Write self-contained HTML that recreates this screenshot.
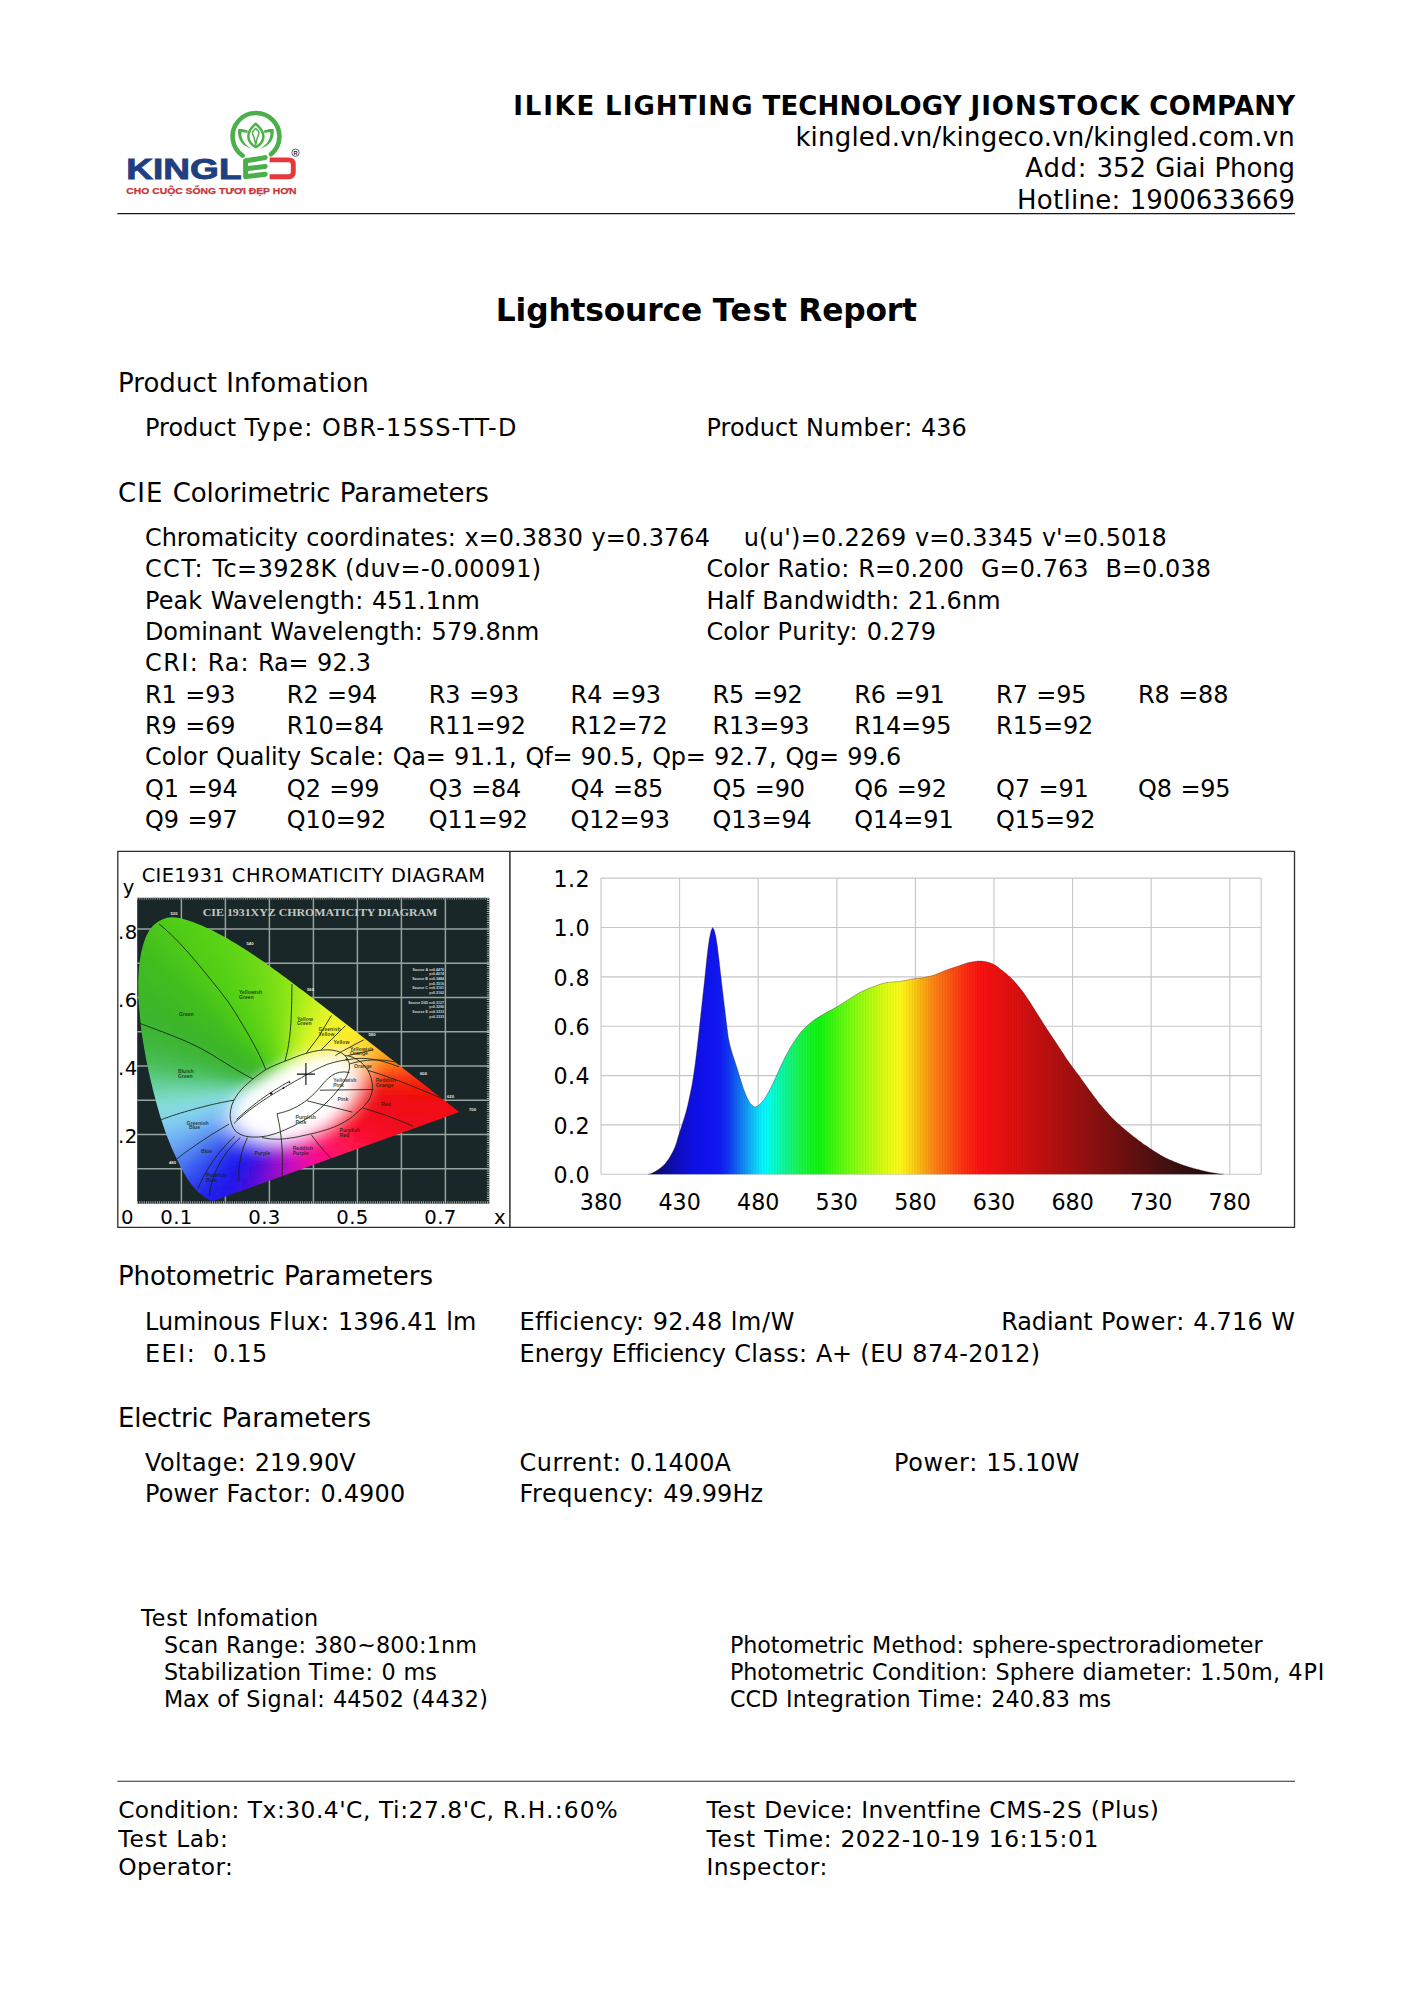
<!DOCTYPE html>
<html lang="en"><head><meta charset="utf-8"><title>Lightsource Test Report</title>
<style>
html,body{margin:0;padding:0;background:#fff;}
body{width:1414px;height:2000px;position:relative;overflow:hidden;font-family:'DejaVu Sans','Liberation Sans',sans-serif;color:#000;}
.t{position:absolute;white-space:pre;color:#000;}
.hl{position:absolute;background:#000;}
.box{position:absolute;border:1px solid #222;box-sizing:border-box;}
svg{position:absolute;overflow:visible;}
</style></head><body>
<svg width="1414" height="2000" viewBox="0 0 1414 2000" style="left:0;top:0">
<path d="M117.4,213.6H1295" stroke="#1a1a1a" stroke-width="1.3" fill="none"/>
<path d="M117.4,1781.2H1295" stroke="#2a2a2a" stroke-width="1.1" fill="none"/>
<path d="M117.8,851.3H1294.5V1227.3H117.8Z" stroke="#2c2c2c" stroke-width="1.3" fill="none"/>
<path d="M509.9,851.3V1227.3" stroke="#2c2c2c" stroke-width="1.5" fill="none"/>
</svg>
<svg width="200" height="110" viewBox="110 95 200 110" style="left:110px;top:95px">
<path d="M242.58,155.57 A23.4,23.4 0 1 1 271.04,154.33" fill="none" stroke="#4caf4a" stroke-width="4.6" stroke-linecap="round"/>
<path d="M255.65,123.68 C260.74,128.01 263.41,131.51 263.41,136.41 C263.41,140.74 260.42,144.56 255.84,147.23 C251.32,144.56 248.33,140.74 248.33,136.41 C248.33,131.51 250.68,128.01 255.65,123.68Z" fill="none" stroke="#4caf4a" stroke-width="2.5" stroke-linejoin="round"/>
<path d="M255.65,128.33 C257.56,130.24 259.78,131.51 258.83,133.74 C257.24,137.56 256.28,140.74 255.77,144.88 C255.14,140.74 254.25,137.56 252.59,133.74 C251.70,131.51 253.74,130.24 255.65,128.33Z" fill="none" stroke="#4caf4a" stroke-width="1.5" stroke-linejoin="round"/>
<path d="M238.20,129.15 C241.64,128.77 245.14,129.41 248.01,130.68 L247.24,133.10 C245.46,132.34 243.23,131.95 241.51,132.21 C240.50,138.19 244.51,144.88 251.64,148.63 C241.01,146.15 237.06,138.19 238.20,129.15Z M273.53,129.15 C270.10,128.77 266.59,129.41 263.73,130.68 L264.49,133.10 C266.28,132.34 268.50,131.95 270.22,132.21 C271.24,138.19 267.23,144.88 260.10,148.63 C270.73,146.15 274.68,138.19 273.53,129.15Z" fill="#4caf4a"/>
<text x="126.3" y="178.9" font-family="'Liberation Sans',sans-serif" font-weight="700" font-size="29.2" fill="#1f3f80" textLength="115.3" lengthAdjust="spacingAndGlyphs" stroke="#1f3f80" stroke-width="0.9">KINGL</text>
<g stroke="#4caf4a" stroke-width="5.0" stroke-linecap="round" fill="none"><path d="M246.0,160.8 L265.2,157.6"/><path d="M246.0,168.8 L265.2,166.4"/><path d="M246.0,176.6 L265.2,174.3"/><path d="M245.6,161.0 L245.6,176.5"/></g>
<path d="M269.6,159.9 L288.6,159.9 Q293.3,159.9 293.3,164.6 L293.3,172.0 Q293.3,176.7 288.6,176.7 L269.6,176.7" fill="none" stroke="#e5383b" stroke-width="4.9" stroke-linecap="butt" stroke-linejoin="round"/>
<circle cx="295.5" cy="152.7" r="3.7" fill="none" stroke="#222" stroke-width="0.7"/>
<text x="295.5" y="154.8" font-family="'Liberation Sans',sans-serif" font-weight="700" font-size="5.6" text-anchor="middle" fill="#222">R</text>
<text x="126.2" y="193.6" font-family="'Liberation Sans','DejaVu Sans',sans-serif" font-weight="700" font-size="8.7" fill="#c5373a" stroke="#c5373a" stroke-width="0.25" textLength="170.4" lengthAdjust="spacingAndGlyphs">CHO CUỘC SỐNG TƯƠI ĐẸP HƠN</text>
</svg>
<svg width="392" height="376" viewBox="118 852 392 376" style="left:118px;top:852px">
<defs><clipPath id="rc"><rect x="137.2" y="897.8" width="352.1" height="305.9"/></clipPath><clipPath id="hc" clip-path="url(#rc)"><path d="M212.4,1201.3 L208.5,1199.5 L204.7,1197.0 L201.1,1194.3 L197.6,1191.5 L194.5,1188.3 L191.7,1184.8 L189.0,1181.2 L186.6,1177.4 L184.3,1173.5 L182.1,1169.6 L180.0,1165.6 L178.1,1161.6 L176.1,1157.5 L174.3,1153.5 L172.4,1149.4 L170.6,1145.2 L168.9,1141.1 L167.3,1136.9 L165.7,1132.7 L164.2,1128.5 L162.8,1124.3 L161.4,1120.0 L160.0,1115.7 L158.8,1111.4 L157.5,1107.1 L156.3,1102.7 L155.2,1098.4 L154.0,1094.1 L152.9,1089.7 L151.9,1085.3 L150.8,1081.0 L149.8,1076.6 L148.8,1072.2 L147.9,1067.8 L147.0,1063.4 L146.1,1059.0 L145.3,1054.6 L144.5,1050.2 L143.8,1045.8 L143.0,1041.4 L142.4,1036.9 L141.7,1032.5 L141.1,1028.0 L140.6,1023.6 L140.1,1019.1 L139.7,1014.6 L139.3,1010.2 L138.9,1005.7 L138.6,1001.2 L138.4,996.7 L138.3,992.2 L138.2,987.7 L138.2,983.2 L138.3,978.8 L138.5,974.3 L138.8,969.8 L139.2,965.4 L139.8,960.9 L140.5,956.5 L141.3,952.1 L142.4,947.6 L143.6,943.2 L145.1,938.9 L146.9,934.7 L149.1,930.7 L151.8,927.1 L155.0,923.9 L158.7,921.3 L162.8,919.2 L167.1,917.8 L171.6,917.3 L176.0,917.4 L180.5,918.2 L184.9,919.4 L189.2,920.8 L193.5,922.3 L197.7,923.9 L201.8,925.6 L205.9,927.4 L209.9,929.3 L214.0,931.3 L218.0,933.4 L221.9,935.5 L225.9,937.6 L229.8,939.9 L233.6,942.2 L237.5,944.5 L241.3,946.9 L245.0,949.3 L248.8,951.7 L252.5,954.2 L256.3,956.7 L260.0,959.3 L263.6,961.8 L267.3,964.4 L270.9,967.0 L274.6,969.7 L278.2,972.3 L281.8,975.0 L285.4,977.6 L289.0,980.3 L292.6,983.0 L296.2,985.7 L299.8,988.4 L303.4,991.1 L306.9,993.8 L310.5,996.6 L314.1,999.3 L317.6,1002.0 L321.2,1004.8 L324.7,1007.5 L328.3,1010.3 L331.8,1013.0 L335.4,1015.7 L338.9,1018.5 L342.5,1021.2 L346.0,1024.0 L349.6,1026.8 L353.1,1029.5 L356.6,1032.3 L360.2,1035.0 L363.7,1037.8 L367.3,1040.5 L370.8,1043.3 L374.4,1046.0 L377.9,1048.8 L381.4,1051.5 L385.0,1054.3 L388.5,1057.0 L392.1,1059.8 L395.6,1062.6 L399.2,1065.3 L402.7,1068.1 L406.2,1070.8 L409.8,1073.6 L413.3,1076.3 L416.9,1079.1 L420.4,1081.8 L424.0,1084.6 L427.5,1087.3 L431.1,1090.1 L434.6,1092.9 L438.1,1095.6 L441.7,1098.4 L445.2,1101.1 L448.8,1103.9 L452.3,1106.6 L455.9,1109.4 L459.4,1112.1Z"/></clipPath><filter id="bl" x="-10%" y="-10%" width="120%" height="120%"><feGaussianBlur stdDeviation="5"/></filter></defs>
<rect x="137.2" y="897.8" width="352.1" height="305.9" fill="#1a2728"/>
<path d="M181.4,897.8V1203.7M225.4,897.8V1203.7M269.4,897.8V1203.7M313.4,897.8V1203.7M357.4,897.8V1203.7M401.4,897.8V1203.7M445.4,897.8V1203.7M137.2,1168.8H489.3M137.2,1134.5H489.3M137.2,1100.2H489.3M137.2,1066.0H489.3M137.2,1031.8H489.3M137.2,997.5H489.3M137.2,963.2H489.3M137.2,929.0H489.3" stroke="#97a4a0" stroke-width="1.45" fill="none"/>
<path d="M137.2,898.8H489.3" stroke="#8f9a96" stroke-width="2" stroke-dasharray="0.9 1.3" fill="none"/>
<path d="M137.2,1202.5H489.3M488.1,897.8V1203.7" stroke="#aeb8b4" stroke-width="2.4" stroke-dasharray="0.9 1.3" fill="none"/>
<g clip-path="url(#hc)"><g filter="url(#bl)" shape-rendering="crispEdges">
<rect x="151" y="905" width="7.5" height="7.5" fill="#4eca19"/>
<rect x="158" y="905" width="7.5" height="7.5" fill="#50cc18"/>
<rect x="165" y="905" width="7.5" height="7.5" fill="#51cd18"/>
<rect x="172" y="905" width="7.5" height="7.5" fill="#52ce17"/>
<rect x="179" y="905" width="7.5" height="7.5" fill="#53cf17"/>
<rect x="186" y="905" width="7.5" height="7.5" fill="#54d016"/>
<rect x="144" y="912" width="7.5" height="7.5" fill="#4bc71a"/>
<rect x="151" y="912" width="7.5" height="7.5" fill="#4dc919"/>
<rect x="158" y="912" width="7.5" height="7.5" fill="#4fcb19"/>
<rect x="165" y="912" width="7.5" height="7.5" fill="#50cc18"/>
<rect x="172" y="912" width="7.5" height="7.5" fill="#51cd17"/>
<rect x="179" y="912" width="7.5" height="7.5" fill="#52ce17"/>
<rect x="186" y="912" width="7.5" height="7.5" fill="#53cf16"/>
<rect x="193" y="912" width="7.5" height="7.5" fill="#55d016"/>
<rect x="200" y="912" width="7.5" height="7.5" fill="#58d116"/>
<rect x="207" y="912" width="7.5" height="7.5" fill="#5bd317"/>
<rect x="137" y="919" width="7.5" height="7.5" fill="#48c41c"/>
<rect x="144" y="919" width="7.5" height="7.5" fill="#49c51b"/>
<rect x="151" y="919" width="7.5" height="7.5" fill="#4bc71a"/>
<rect x="158" y="919" width="7.5" height="7.5" fill="#4dc919"/>
<rect x="165" y="919" width="7.5" height="7.5" fill="#4fcb18"/>
<rect x="172" y="919" width="7.5" height="7.5" fill="#51cd18"/>
<rect x="179" y="919" width="7.5" height="7.5" fill="#52ce17"/>
<rect x="186" y="919" width="7.5" height="7.5" fill="#53cf17"/>
<rect x="193" y="919" width="7.5" height="7.5" fill="#54d016"/>
<rect x="200" y="919" width="7.5" height="7.5" fill="#56d116"/>
<rect x="207" y="919" width="7.5" height="7.5" fill="#5ad217"/>
<rect x="214" y="919" width="7.5" height="7.5" fill="#5dd317"/>
<rect x="221" y="919" width="7.5" height="7.5" fill="#61d518"/>
<rect x="137" y="926" width="7.5" height="7.5" fill="#46c21c"/>
<rect x="144" y="926" width="7.5" height="7.5" fill="#48c41c"/>
<rect x="151" y="926" width="7.5" height="7.5" fill="#4ac61b"/>
<rect x="158" y="926" width="7.5" height="7.5" fill="#4cc81a"/>
<rect x="165" y="926" width="7.5" height="7.5" fill="#4eca19"/>
<rect x="172" y="926" width="7.5" height="7.5" fill="#50cc18"/>
<rect x="179" y="926" width="7.5" height="7.5" fill="#51cd18"/>
<rect x="186" y="926" width="7.5" height="7.5" fill="#52ce17"/>
<rect x="193" y="926" width="7.5" height="7.5" fill="#53cf16"/>
<rect x="200" y="926" width="7.5" height="7.5" fill="#55d016"/>
<rect x="207" y="926" width="7.5" height="7.5" fill="#58d217"/>
<rect x="214" y="926" width="7.5" height="7.5" fill="#5cd317"/>
<rect x="221" y="926" width="7.5" height="7.5" fill="#5fd417"/>
<rect x="228" y="926" width="7.5" height="7.5" fill="#63d618"/>
<rect x="235" y="926" width="7.5" height="7.5" fill="#67d718"/>
<rect x="130" y="933" width="7.5" height="7.5" fill="#42be1e"/>
<rect x="137" y="933" width="7.5" height="7.5" fill="#44c01d"/>
<rect x="144" y="933" width="7.5" height="7.5" fill="#46c21c"/>
<rect x="151" y="933" width="7.5" height="7.5" fill="#48c41b"/>
<rect x="158" y="933" width="7.5" height="7.5" fill="#4ac61b"/>
<rect x="165" y="933" width="7.5" height="7.5" fill="#4cc81a"/>
<rect x="172" y="933" width="7.5" height="7.5" fill="#4eca19"/>
<rect x="179" y="933" width="7.5" height="7.5" fill="#50cc18"/>
<rect x="186" y="933" width="7.5" height="7.5" fill="#51cd17"/>
<rect x="193" y="933" width="7.5" height="7.5" fill="#52ce17"/>
<rect x="200" y="933" width="7.5" height="7.5" fill="#54d016"/>
<rect x="207" y="933" width="7.5" height="7.5" fill="#56d116"/>
<rect x="214" y="933" width="7.5" height="7.5" fill="#5ad217"/>
<rect x="221" y="933" width="7.5" height="7.5" fill="#5ed417"/>
<rect x="228" y="933" width="7.5" height="7.5" fill="#62d518"/>
<rect x="235" y="933" width="7.5" height="7.5" fill="#66d718"/>
<rect x="242" y="933" width="7.5" height="7.5" fill="#6ad818"/>
<rect x="130" y="940" width="7.5" height="7.5" fill="#41bd1f"/>
<rect x="137" y="940" width="7.5" height="7.5" fill="#42be1e"/>
<rect x="144" y="940" width="7.5" height="7.5" fill="#44c01d"/>
<rect x="151" y="940" width="7.5" height="7.5" fill="#46c21c"/>
<rect x="158" y="940" width="7.5" height="7.5" fill="#48c41b"/>
<rect x="165" y="940" width="7.5" height="7.5" fill="#4ac61a"/>
<rect x="172" y="940" width="7.5" height="7.5" fill="#4dc919"/>
<rect x="179" y="940" width="7.5" height="7.5" fill="#4fcb18"/>
<rect x="186" y="940" width="7.5" height="7.5" fill="#51cd18"/>
<rect x="193" y="940" width="7.5" height="7.5" fill="#52ce17"/>
<rect x="200" y="940" width="7.5" height="7.5" fill="#53cf17"/>
<rect x="207" y="940" width="7.5" height="7.5" fill="#55d016"/>
<rect x="214" y="940" width="7.5" height="7.5" fill="#58d217"/>
<rect x="221" y="940" width="7.5" height="7.5" fill="#5cd317"/>
<rect x="228" y="940" width="7.5" height="7.5" fill="#60d518"/>
<rect x="235" y="940" width="7.5" height="7.5" fill="#64d618"/>
<rect x="242" y="940" width="7.5" height="7.5" fill="#69d818"/>
<rect x="249" y="940" width="7.5" height="7.5" fill="#6dda18"/>
<rect x="256" y="940" width="7.5" height="7.5" fill="#72dc18"/>
<rect x="130" y="947" width="7.5" height="7.5" fill="#41bc20"/>
<rect x="137" y="947" width="7.5" height="7.5" fill="#41bd1f"/>
<rect x="144" y="947" width="7.5" height="7.5" fill="#42be1e"/>
<rect x="151" y="947" width="7.5" height="7.5" fill="#44c01d"/>
<rect x="158" y="947" width="7.5" height="7.5" fill="#47c31c"/>
<rect x="165" y="947" width="7.5" height="7.5" fill="#49c51b"/>
<rect x="172" y="947" width="7.5" height="7.5" fill="#4bc71a"/>
<rect x="179" y="947" width="7.5" height="7.5" fill="#4dc919"/>
<rect x="186" y="947" width="7.5" height="7.5" fill="#50cc18"/>
<rect x="193" y="947" width="7.5" height="7.5" fill="#51cd17"/>
<rect x="200" y="947" width="7.5" height="7.5" fill="#52ce17"/>
<rect x="207" y="947" width="7.5" height="7.5" fill="#54d016"/>
<rect x="214" y="947" width="7.5" height="7.5" fill="#57d116"/>
<rect x="221" y="947" width="7.5" height="7.5" fill="#5bd217"/>
<rect x="228" y="947" width="7.5" height="7.5" fill="#5fd417"/>
<rect x="235" y="947" width="7.5" height="7.5" fill="#63d618"/>
<rect x="242" y="947" width="7.5" height="7.5" fill="#67d718"/>
<rect x="249" y="947" width="7.5" height="7.5" fill="#6cd918"/>
<rect x="256" y="947" width="7.5" height="7.5" fill="#71db18"/>
<rect x="263" y="947" width="7.5" height="7.5" fill="#76dd18"/>
<rect x="130" y="954" width="7.5" height="7.5" fill="#40bb21"/>
<rect x="137" y="954" width="7.5" height="7.5" fill="#41bc20"/>
<rect x="144" y="954" width="7.5" height="7.5" fill="#41bd1f"/>
<rect x="151" y="954" width="7.5" height="7.5" fill="#42be1e"/>
<rect x="158" y="954" width="7.5" height="7.5" fill="#45c11d"/>
<rect x="165" y="954" width="7.5" height="7.5" fill="#47c31c"/>
<rect x="172" y="954" width="7.5" height="7.5" fill="#49c51b"/>
<rect x="179" y="954" width="7.5" height="7.5" fill="#4bc71a"/>
<rect x="186" y="954" width="7.5" height="7.5" fill="#4eca19"/>
<rect x="193" y="954" width="7.5" height="7.5" fill="#50cc18"/>
<rect x="200" y="954" width="7.5" height="7.5" fill="#52ce17"/>
<rect x="207" y="954" width="7.5" height="7.5" fill="#53cf17"/>
<rect x="214" y="954" width="7.5" height="7.5" fill="#55d016"/>
<rect x="221" y="954" width="7.5" height="7.5" fill="#59d217"/>
<rect x="228" y="954" width="7.5" height="7.5" fill="#5dd317"/>
<rect x="235" y="954" width="7.5" height="7.5" fill="#61d518"/>
<rect x="242" y="954" width="7.5" height="7.5" fill="#66d718"/>
<rect x="249" y="954" width="7.5" height="7.5" fill="#6bd918"/>
<rect x="256" y="954" width="7.5" height="7.5" fill="#70db18"/>
<rect x="263" y="954" width="7.5" height="7.5" fill="#75dd18"/>
<rect x="270" y="954" width="7.5" height="7.5" fill="#7cdf18"/>
<rect x="277" y="954" width="7.5" height="7.5" fill="#84e219"/>
<rect x="130" y="961" width="7.5" height="7.5" fill="#3fba23"/>
<rect x="137" y="961" width="7.5" height="7.5" fill="#40bb21"/>
<rect x="144" y="961" width="7.5" height="7.5" fill="#41bc20"/>
<rect x="151" y="961" width="7.5" height="7.5" fill="#41bd1f"/>
<rect x="158" y="961" width="7.5" height="7.5" fill="#42be1e"/>
<rect x="165" y="961" width="7.5" height="7.5" fill="#45c11d"/>
<rect x="172" y="961" width="7.5" height="7.5" fill="#47c31c"/>
<rect x="179" y="961" width="7.5" height="7.5" fill="#49c51b"/>
<rect x="186" y="961" width="7.5" height="7.5" fill="#4cc81a"/>
<rect x="193" y="961" width="7.5" height="7.5" fill="#4fcb19"/>
<rect x="200" y="961" width="7.5" height="7.5" fill="#51cd18"/>
<rect x="207" y="961" width="7.5" height="7.5" fill="#52ce17"/>
<rect x="214" y="961" width="7.5" height="7.5" fill="#53cf16"/>
<rect x="221" y="961" width="7.5" height="7.5" fill="#57d116"/>
<rect x="228" y="961" width="7.5" height="7.5" fill="#5bd317"/>
<rect x="235" y="961" width="7.5" height="7.5" fill="#60d417"/>
<rect x="242" y="961" width="7.5" height="7.5" fill="#64d618"/>
<rect x="249" y="961" width="7.5" height="7.5" fill="#6ad818"/>
<rect x="256" y="961" width="7.5" height="7.5" fill="#6fda18"/>
<rect x="263" y="961" width="7.5" height="7.5" fill="#75dd18"/>
<rect x="270" y="961" width="7.5" height="7.5" fill="#7bdf18"/>
<rect x="277" y="961" width="7.5" height="7.5" fill="#84e219"/>
<rect x="284" y="961" width="7.5" height="7.5" fill="#8ce519"/>
<rect x="130" y="968" width="7.5" height="7.5" fill="#3eb924"/>
<rect x="137" y="968" width="7.5" height="7.5" fill="#3fba23"/>
<rect x="144" y="968" width="7.5" height="7.5" fill="#40bb22"/>
<rect x="151" y="968" width="7.5" height="7.5" fill="#41bc20"/>
<rect x="158" y="968" width="7.5" height="7.5" fill="#41bd1f"/>
<rect x="165" y="968" width="7.5" height="7.5" fill="#42be1e"/>
<rect x="172" y="968" width="7.5" height="7.5" fill="#45c11d"/>
<rect x="179" y="968" width="7.5" height="7.5" fill="#47c31c"/>
<rect x="186" y="968" width="7.5" height="7.5" fill="#4ac61b"/>
<rect x="193" y="968" width="7.5" height="7.5" fill="#4dc919"/>
<rect x="200" y="968" width="7.5" height="7.5" fill="#50cb18"/>
<rect x="207" y="968" width="7.5" height="7.5" fill="#51cd17"/>
<rect x="214" y="968" width="7.5" height="7.5" fill="#53cf17"/>
<rect x="221" y="968" width="7.5" height="7.5" fill="#54d016"/>
<rect x="228" y="968" width="7.5" height="7.5" fill="#59d217"/>
<rect x="235" y="968" width="7.5" height="7.5" fill="#5ed417"/>
<rect x="242" y="968" width="7.5" height="7.5" fill="#63d618"/>
<rect x="249" y="968" width="7.5" height="7.5" fill="#68d818"/>
<rect x="256" y="968" width="7.5" height="7.5" fill="#6eda18"/>
<rect x="263" y="968" width="7.5" height="7.5" fill="#74dc18"/>
<rect x="270" y="968" width="7.5" height="7.5" fill="#7bdf18"/>
<rect x="277" y="968" width="7.5" height="7.5" fill="#83e219"/>
<rect x="284" y="968" width="7.5" height="7.5" fill="#8ce519"/>
<rect x="291" y="968" width="7.5" height="7.5" fill="#95e81a"/>
<rect x="130" y="975" width="7.5" height="7.5" fill="#3eb826"/>
<rect x="137" y="975" width="7.5" height="7.5" fill="#3eb924"/>
<rect x="144" y="975" width="7.5" height="7.5" fill="#3fba23"/>
<rect x="151" y="975" width="7.5" height="7.5" fill="#40bb22"/>
<rect x="158" y="975" width="7.5" height="7.5" fill="#40bc21"/>
<rect x="165" y="975" width="7.5" height="7.5" fill="#41bd1f"/>
<rect x="172" y="975" width="7.5" height="7.5" fill="#42be1e"/>
<rect x="179" y="975" width="7.5" height="7.5" fill="#45c11d"/>
<rect x="186" y="975" width="7.5" height="7.5" fill="#48c41c"/>
<rect x="193" y="975" width="7.5" height="7.5" fill="#4ac61a"/>
<rect x="200" y="975" width="7.5" height="7.5" fill="#4dc919"/>
<rect x="207" y="975" width="7.5" height="7.5" fill="#50cc18"/>
<rect x="214" y="975" width="7.5" height="7.5" fill="#52ce17"/>
<rect x="221" y="975" width="7.5" height="7.5" fill="#53cf16"/>
<rect x="228" y="975" width="7.5" height="7.5" fill="#57d116"/>
<rect x="235" y="975" width="7.5" height="7.5" fill="#5cd317"/>
<rect x="242" y="975" width="7.5" height="7.5" fill="#61d518"/>
<rect x="249" y="975" width="7.5" height="7.5" fill="#67d718"/>
<rect x="256" y="975" width="7.5" height="7.5" fill="#6dd918"/>
<rect x="263" y="975" width="7.5" height="7.5" fill="#73dc18"/>
<rect x="270" y="975" width="7.5" height="7.5" fill="#7adf18"/>
<rect x="277" y="975" width="7.5" height="7.5" fill="#83e219"/>
<rect x="284" y="975" width="7.5" height="7.5" fill="#8de519"/>
<rect x="291" y="975" width="7.5" height="7.5" fill="#96e81a"/>
<rect x="298" y="975" width="7.5" height="7.5" fill="#a3eb1c"/>
<rect x="305" y="975" width="7.5" height="7.5" fill="#b0ee1d"/>
<rect x="130" y="982" width="7.5" height="7.5" fill="#3db727"/>
<rect x="137" y="982" width="7.5" height="7.5" fill="#3db826"/>
<rect x="144" y="982" width="7.5" height="7.5" fill="#3eb925"/>
<rect x="151" y="982" width="7.5" height="7.5" fill="#3fba23"/>
<rect x="158" y="982" width="7.5" height="7.5" fill="#40bb22"/>
<rect x="165" y="982" width="7.5" height="7.5" fill="#40bc21"/>
<rect x="172" y="982" width="7.5" height="7.5" fill="#41bd1f"/>
<rect x="179" y="982" width="7.5" height="7.5" fill="#42be1e"/>
<rect x="186" y="982" width="7.5" height="7.5" fill="#45c11d"/>
<rect x="193" y="982" width="7.5" height="7.5" fill="#48c41b"/>
<rect x="200" y="982" width="7.5" height="7.5" fill="#4bc71a"/>
<rect x="207" y="982" width="7.5" height="7.5" fill="#4eca19"/>
<rect x="214" y="982" width="7.5" height="7.5" fill="#51cd18"/>
<rect x="221" y="982" width="7.5" height="7.5" fill="#52ce17"/>
<rect x="228" y="982" width="7.5" height="7.5" fill="#54d016"/>
<rect x="235" y="982" width="7.5" height="7.5" fill="#5ad217"/>
<rect x="242" y="982" width="7.5" height="7.5" fill="#5fd417"/>
<rect x="249" y="982" width="7.5" height="7.5" fill="#65d618"/>
<rect x="256" y="982" width="7.5" height="7.5" fill="#6bd918"/>
<rect x="263" y="982" width="7.5" height="7.5" fill="#72dc18"/>
<rect x="270" y="982" width="7.5" height="7.5" fill="#79de18"/>
<rect x="277" y="982" width="7.5" height="7.5" fill="#83e219"/>
<rect x="284" y="982" width="7.5" height="7.5" fill="#8de519"/>
<rect x="291" y="982" width="7.5" height="7.5" fill="#97e81a"/>
<rect x="298" y="982" width="7.5" height="7.5" fill="#a5eb1c"/>
<rect x="305" y="982" width="7.5" height="7.5" fill="#b3ee1e"/>
<rect x="312" y="982" width="7.5" height="7.5" fill="#c0f11f"/>
<rect x="130" y="989" width="7.5" height="7.5" fill="#3cb629"/>
<rect x="137" y="989" width="7.5" height="7.5" fill="#3cb628"/>
<rect x="144" y="989" width="7.5" height="7.5" fill="#3db726"/>
<rect x="151" y="989" width="7.5" height="7.5" fill="#3eb825"/>
<rect x="158" y="989" width="7.5" height="7.5" fill="#3fb924"/>
<rect x="165" y="989" width="7.5" height="7.5" fill="#3fba22"/>
<rect x="172" y="989" width="7.5" height="7.5" fill="#40bc21"/>
<rect x="179" y="989" width="7.5" height="7.5" fill="#41bd1f"/>
<rect x="186" y="989" width="7.5" height="7.5" fill="#43be1e"/>
<rect x="193" y="989" width="7.5" height="7.5" fill="#45c11d"/>
<rect x="200" y="989" width="7.5" height="7.5" fill="#49c51b"/>
<rect x="207" y="989" width="7.5" height="7.5" fill="#4cc81a"/>
<rect x="214" y="989" width="7.5" height="7.5" fill="#4fcb18"/>
<rect x="221" y="989" width="7.5" height="7.5" fill="#51cd17"/>
<rect x="228" y="989" width="7.5" height="7.5" fill="#53cf16"/>
<rect x="235" y="989" width="7.5" height="7.5" fill="#57d116"/>
<rect x="242" y="989" width="7.5" height="7.5" fill="#5dd317"/>
<rect x="249" y="989" width="7.5" height="7.5" fill="#63d618"/>
<rect x="256" y="989" width="7.5" height="7.5" fill="#6ad818"/>
<rect x="263" y="989" width="7.5" height="7.5" fill="#71db18"/>
<rect x="270" y="989" width="7.5" height="7.5" fill="#78de18"/>
<rect x="277" y="989" width="7.5" height="7.5" fill="#82e119"/>
<rect x="284" y="989" width="7.5" height="7.5" fill="#8de519"/>
<rect x="291" y="989" width="7.5" height="7.5" fill="#99e91a"/>
<rect x="298" y="989" width="7.5" height="7.5" fill="#a8ec1c"/>
<rect x="305" y="989" width="7.5" height="7.5" fill="#b6ef1e"/>
<rect x="312" y="989" width="7.5" height="7.5" fill="#c4f220"/>
<rect x="319" y="989" width="7.5" height="7.5" fill="#cef322"/>
<rect x="130" y="996" width="7.5" height="7.5" fill="#3cb62b"/>
<rect x="137" y="996" width="7.5" height="7.5" fill="#3cb629"/>
<rect x="144" y="996" width="7.5" height="7.5" fill="#3cb628"/>
<rect x="151" y="996" width="7.5" height="7.5" fill="#3db727"/>
<rect x="158" y="996" width="7.5" height="7.5" fill="#3eb826"/>
<rect x="165" y="996" width="7.5" height="7.5" fill="#3eb924"/>
<rect x="172" y="996" width="7.5" height="7.5" fill="#3fba23"/>
<rect x="179" y="996" width="7.5" height="7.5" fill="#40bb21"/>
<rect x="186" y="996" width="7.5" height="7.5" fill="#41bd1f"/>
<rect x="193" y="996" width="7.5" height="7.5" fill="#43bf1e"/>
<rect x="200" y="996" width="7.5" height="7.5" fill="#46c21c"/>
<rect x="207" y="996" width="7.5" height="7.5" fill="#49c51b"/>
<rect x="214" y="996" width="7.5" height="7.5" fill="#4dc919"/>
<rect x="221" y="996" width="7.5" height="7.5" fill="#50cc18"/>
<rect x="228" y="996" width="7.5" height="7.5" fill="#52ce17"/>
<rect x="235" y="996" width="7.5" height="7.5" fill="#54d016"/>
<rect x="242" y="996" width="7.5" height="7.5" fill="#5ad217"/>
<rect x="249" y="996" width="7.5" height="7.5" fill="#61d518"/>
<rect x="256" y="996" width="7.5" height="7.5" fill="#68d718"/>
<rect x="263" y="996" width="7.5" height="7.5" fill="#6fda18"/>
<rect x="270" y="996" width="7.5" height="7.5" fill="#77de18"/>
<rect x="277" y="996" width="7.5" height="7.5" fill="#82e119"/>
<rect x="284" y="996" width="7.5" height="7.5" fill="#8ee519"/>
<rect x="291" y="996" width="7.5" height="7.5" fill="#9ae91b"/>
<rect x="298" y="996" width="7.5" height="7.5" fill="#aaec1d"/>
<rect x="305" y="996" width="7.5" height="7.5" fill="#baf01f"/>
<rect x="312" y="996" width="7.5" height="7.5" fill="#c8f221"/>
<rect x="319" y="996" width="7.5" height="7.5" fill="#d2f323"/>
<rect x="326" y="996" width="7.5" height="7.5" fill="#dcf326"/>
<rect x="333" y="996" width="7.5" height="7.5" fill="#e5f428"/>
<rect x="130" y="1003" width="7.5" height="7.5" fill="#3cb52d"/>
<rect x="137" y="1003" width="7.5" height="7.5" fill="#3cb52b"/>
<rect x="144" y="1003" width="7.5" height="7.5" fill="#3cb62a"/>
<rect x="151" y="1003" width="7.5" height="7.5" fill="#3cb629"/>
<rect x="158" y="1003" width="7.5" height="7.5" fill="#3cb628"/>
<rect x="165" y="1003" width="7.5" height="7.5" fill="#3db826"/>
<rect x="172" y="1003" width="7.5" height="7.5" fill="#3eb925"/>
<rect x="179" y="1003" width="7.5" height="7.5" fill="#3fba23"/>
<rect x="186" y="1003" width="7.5" height="7.5" fill="#40bb21"/>
<rect x="193" y="1003" width="7.5" height="7.5" fill="#41bd20"/>
<rect x="200" y="1003" width="7.5" height="7.5" fill="#43bf1e"/>
<rect x="207" y="1003" width="7.5" height="7.5" fill="#46c21c"/>
<rect x="214" y="1003" width="7.5" height="7.5" fill="#4ac61b"/>
<rect x="221" y="1003" width="7.5" height="7.5" fill="#4eca19"/>
<rect x="228" y="1003" width="7.5" height="7.5" fill="#51cd18"/>
<rect x="235" y="1003" width="7.5" height="7.5" fill="#53cf17"/>
<rect x="242" y="1003" width="7.5" height="7.5" fill="#57d116"/>
<rect x="249" y="1003" width="7.5" height="7.5" fill="#5ed417"/>
<rect x="256" y="1003" width="7.5" height="7.5" fill="#65d718"/>
<rect x="263" y="1003" width="7.5" height="7.5" fill="#6dda18"/>
<rect x="270" y="1003" width="7.5" height="7.5" fill="#76dd18"/>
<rect x="277" y="1003" width="7.5" height="7.5" fill="#81e119"/>
<rect x="284" y="1003" width="7.5" height="7.5" fill="#8ee519"/>
<rect x="291" y="1003" width="7.5" height="7.5" fill="#9ce91b"/>
<rect x="298" y="1003" width="7.5" height="7.5" fill="#aeed1d"/>
<rect x="305" y="1003" width="7.5" height="7.5" fill="#bef11f"/>
<rect x="312" y="1003" width="7.5" height="7.5" fill="#ccf222"/>
<rect x="319" y="1003" width="7.5" height="7.5" fill="#d7f325"/>
<rect x="326" y="1003" width="7.5" height="7.5" fill="#e1f427"/>
<rect x="333" y="1003" width="7.5" height="7.5" fill="#e8f42a"/>
<rect x="340" y="1003" width="7.5" height="7.5" fill="#edf32d"/>
<rect x="130" y="1010" width="7.5" height="7.5" fill="#3db52f"/>
<rect x="137" y="1010" width="7.5" height="7.5" fill="#3cb52e"/>
<rect x="144" y="1010" width="7.5" height="7.5" fill="#3cb52c"/>
<rect x="151" y="1010" width="7.5" height="7.5" fill="#3cb52b"/>
<rect x="158" y="1010" width="7.5" height="7.5" fill="#3cb62a"/>
<rect x="165" y="1010" width="7.5" height="7.5" fill="#3cb628"/>
<rect x="172" y="1010" width="7.5" height="7.5" fill="#3db727"/>
<rect x="179" y="1010" width="7.5" height="7.5" fill="#3eb825"/>
<rect x="186" y="1010" width="7.5" height="7.5" fill="#3fba24"/>
<rect x="193" y="1010" width="7.5" height="7.5" fill="#40bb22"/>
<rect x="200" y="1010" width="7.5" height="7.5" fill="#41bd20"/>
<rect x="207" y="1010" width="7.5" height="7.5" fill="#43bf1e"/>
<rect x="214" y="1010" width="7.5" height="7.5" fill="#46c21c"/>
<rect x="221" y="1010" width="7.5" height="7.5" fill="#4ac61a"/>
<rect x="228" y="1010" width="7.5" height="7.5" fill="#4fcb19"/>
<rect x="235" y="1010" width="7.5" height="7.5" fill="#52ce17"/>
<rect x="242" y="1010" width="7.5" height="7.5" fill="#54d016"/>
<rect x="249" y="1010" width="7.5" height="7.5" fill="#5bd317"/>
<rect x="256" y="1010" width="7.5" height="7.5" fill="#63d618"/>
<rect x="263" y="1010" width="7.5" height="7.5" fill="#6bd918"/>
<rect x="270" y="1010" width="7.5" height="7.5" fill="#74dd18"/>
<rect x="277" y="1010" width="7.5" height="7.5" fill="#81e119"/>
<rect x="284" y="1010" width="7.5" height="7.5" fill="#8ee519"/>
<rect x="291" y="1010" width="7.5" height="7.5" fill="#9fea1b"/>
<rect x="298" y="1010" width="7.5" height="7.5" fill="#b1ee1e"/>
<rect x="305" y="1010" width="7.5" height="7.5" fill="#c4f220"/>
<rect x="312" y="1010" width="7.5" height="7.5" fill="#d0f323"/>
<rect x="319" y="1010" width="7.5" height="7.5" fill="#dcf326"/>
<rect x="326" y="1010" width="7.5" height="7.5" fill="#e6f429"/>
<rect x="333" y="1010" width="7.5" height="7.5" fill="#ecf32c"/>
<rect x="340" y="1010" width="7.5" height="7.5" fill="#f1f22f"/>
<rect x="347" y="1010" width="7.5" height="7.5" fill="#f5f12f"/>
<rect x="130" y="1017" width="7.5" height="7.5" fill="#3db431"/>
<rect x="137" y="1017" width="7.5" height="7.5" fill="#3db530"/>
<rect x="144" y="1017" width="7.5" height="7.5" fill="#3db52f"/>
<rect x="151" y="1017" width="7.5" height="7.5" fill="#3cb52d"/>
<rect x="158" y="1017" width="7.5" height="7.5" fill="#3cb52c"/>
<rect x="165" y="1017" width="7.5" height="7.5" fill="#3cb52b"/>
<rect x="172" y="1017" width="7.5" height="7.5" fill="#3cb629"/>
<rect x="179" y="1017" width="7.5" height="7.5" fill="#3cb628"/>
<rect x="186" y="1017" width="7.5" height="7.5" fill="#3db826"/>
<rect x="193" y="1017" width="7.5" height="7.5" fill="#3eb924"/>
<rect x="200" y="1017" width="7.5" height="7.5" fill="#40bb22"/>
<rect x="207" y="1017" width="7.5" height="7.5" fill="#41bc20"/>
<rect x="214" y="1017" width="7.5" height="7.5" fill="#43bf1e"/>
<rect x="221" y="1017" width="7.5" height="7.5" fill="#47c31c"/>
<rect x="228" y="1017" width="7.5" height="7.5" fill="#4bc71a"/>
<rect x="235" y="1017" width="7.5" height="7.5" fill="#50cc18"/>
<rect x="242" y="1017" width="7.5" height="7.5" fill="#53cf17"/>
<rect x="249" y="1017" width="7.5" height="7.5" fill="#58d116"/>
<rect x="256" y="1017" width="7.5" height="7.5" fill="#60d417"/>
<rect x="263" y="1017" width="7.5" height="7.5" fill="#69d818"/>
<rect x="270" y="1017" width="7.5" height="7.5" fill="#73dc18"/>
<rect x="277" y="1017" width="7.5" height="7.5" fill="#80e119"/>
<rect x="284" y="1017" width="7.5" height="7.5" fill="#8fe61a"/>
<rect x="291" y="1017" width="7.5" height="7.5" fill="#a1ea1b"/>
<rect x="298" y="1017" width="7.5" height="7.5" fill="#b6ef1e"/>
<rect x="305" y="1017" width="7.5" height="7.5" fill="#c8f221"/>
<rect x="312" y="1017" width="7.5" height="7.5" fill="#d6f324"/>
<rect x="319" y="1017" width="7.5" height="7.5" fill="#e2f428"/>
<rect x="326" y="1017" width="7.5" height="7.5" fill="#eaf32b"/>
<rect x="333" y="1017" width="7.5" height="7.5" fill="#f0f32e"/>
<rect x="340" y="1017" width="7.5" height="7.5" fill="#f5f12f"/>
<rect x="347" y="1017" width="7.5" height="7.5" fill="#f6f02d"/>
<rect x="354" y="1017" width="7.5" height="7.5" fill="#f7ef2b"/>
<rect x="130" y="1024" width="7.5" height="7.5" fill="#3eb636"/>
<rect x="137" y="1024" width="7.5" height="7.5" fill="#3eb534"/>
<rect x="144" y="1024" width="7.5" height="7.5" fill="#3db431"/>
<rect x="151" y="1024" width="7.5" height="7.5" fill="#3db530"/>
<rect x="158" y="1024" width="7.5" height="7.5" fill="#3db52f"/>
<rect x="165" y="1024" width="7.5" height="7.5" fill="#3cb52d"/>
<rect x="172" y="1024" width="7.5" height="7.5" fill="#3cb52c"/>
<rect x="179" y="1024" width="7.5" height="7.5" fill="#3cb62a"/>
<rect x="186" y="1024" width="7.5" height="7.5" fill="#3cb629"/>
<rect x="193" y="1024" width="7.5" height="7.5" fill="#3db727"/>
<rect x="200" y="1024" width="7.5" height="7.5" fill="#3eb925"/>
<rect x="207" y="1024" width="7.5" height="7.5" fill="#3fba23"/>
<rect x="214" y="1024" width="7.5" height="7.5" fill="#41bc20"/>
<rect x="221" y="1024" width="7.5" height="7.5" fill="#43bf1e"/>
<rect x="228" y="1024" width="7.5" height="7.5" fill="#47c31c"/>
<rect x="235" y="1024" width="7.5" height="7.5" fill="#4dc919"/>
<rect x="242" y="1024" width="7.5" height="7.5" fill="#51cd18"/>
<rect x="249" y="1024" width="7.5" height="7.5" fill="#54d016"/>
<rect x="256" y="1024" width="7.5" height="7.5" fill="#5cd317"/>
<rect x="263" y="1024" width="7.5" height="7.5" fill="#66d718"/>
<rect x="270" y="1024" width="7.5" height="7.5" fill="#71db18"/>
<rect x="277" y="1024" width="7.5" height="7.5" fill="#7fe018"/>
<rect x="284" y="1024" width="7.5" height="7.5" fill="#90e61a"/>
<rect x="291" y="1024" width="7.5" height="7.5" fill="#a5eb1c"/>
<rect x="298" y="1024" width="7.5" height="7.5" fill="#bcf01f"/>
<rect x="305" y="1024" width="7.5" height="7.5" fill="#cef322"/>
<rect x="312" y="1024" width="7.5" height="7.5" fill="#dcf426"/>
<rect x="319" y="1024" width="7.5" height="7.5" fill="#e7f42a"/>
<rect x="326" y="1024" width="7.5" height="7.5" fill="#eef32d"/>
<rect x="333" y="1024" width="7.5" height="7.5" fill="#f4f230"/>
<rect x="340" y="1024" width="7.5" height="7.5" fill="#f6f02d"/>
<rect x="347" y="1024" width="7.5" height="7.5" fill="#f8ee2b"/>
<rect x="354" y="1024" width="7.5" height="7.5" fill="#f9ed29"/>
<rect x="361" y="1024" width="7.5" height="7.5" fill="#faeb28"/>
<rect x="368" y="1024" width="7.5" height="7.5" fill="#fbe526"/>
<rect x="130" y="1031" width="7.5" height="7.5" fill="#3fb73c"/>
<rect x="137" y="1031" width="7.5" height="7.5" fill="#3fb639"/>
<rect x="144" y="1031" width="7.5" height="7.5" fill="#3eb637"/>
<rect x="151" y="1031" width="7.5" height="7.5" fill="#3eb535"/>
<rect x="158" y="1031" width="7.5" height="7.5" fill="#3db532"/>
<rect x="165" y="1031" width="7.5" height="7.5" fill="#3db430"/>
<rect x="172" y="1031" width="7.5" height="7.5" fill="#3db52f"/>
<rect x="179" y="1031" width="7.5" height="7.5" fill="#3cb52d"/>
<rect x="186" y="1031" width="7.5" height="7.5" fill="#3cb52b"/>
<rect x="193" y="1031" width="7.5" height="7.5" fill="#3cb62a"/>
<rect x="200" y="1031" width="7.5" height="7.5" fill="#3cb628"/>
<rect x="207" y="1031" width="7.5" height="7.5" fill="#3eb826"/>
<rect x="214" y="1031" width="7.5" height="7.5" fill="#3fba23"/>
<rect x="221" y="1031" width="7.5" height="7.5" fill="#41bc20"/>
<rect x="228" y="1031" width="7.5" height="7.5" fill="#43bf1e"/>
<rect x="235" y="1031" width="7.5" height="7.5" fill="#48c41b"/>
<rect x="242" y="1031" width="7.5" height="7.5" fill="#4eca19"/>
<rect x="249" y="1031" width="7.5" height="7.5" fill="#52ce17"/>
<rect x="256" y="1031" width="7.5" height="7.5" fill="#58d217"/>
<rect x="263" y="1031" width="7.5" height="7.5" fill="#63d618"/>
<rect x="270" y="1031" width="7.5" height="7.5" fill="#6fda18"/>
<rect x="277" y="1031" width="7.5" height="7.5" fill="#7de018"/>
<rect x="284" y="1031" width="7.5" height="7.5" fill="#91e61a"/>
<rect x="291" y="1031" width="7.5" height="7.5" fill="#a9ec1c"/>
<rect x="298" y="1031" width="7.5" height="7.5" fill="#c3f220"/>
<rect x="305" y="1031" width="7.5" height="7.5" fill="#d4f324"/>
<rect x="312" y="1031" width="7.5" height="7.5" fill="#e4f428"/>
<rect x="319" y="1031" width="7.5" height="7.5" fill="#ecf32c"/>
<rect x="326" y="1031" width="7.5" height="7.5" fill="#f4f230"/>
<rect x="333" y="1031" width="7.5" height="7.5" fill="#f6f02d"/>
<rect x="340" y="1031" width="7.5" height="7.5" fill="#f8ee2b"/>
<rect x="347" y="1031" width="7.5" height="7.5" fill="#f9ed29"/>
<rect x="354" y="1031" width="7.5" height="7.5" fill="#fbe927"/>
<rect x="361" y="1031" width="7.5" height="7.5" fill="#fce325"/>
<rect x="368" y="1031" width="7.5" height="7.5" fill="#fddd24"/>
<rect x="375" y="1031" width="7.5" height="7.5" fill="#fed822"/>
<rect x="130" y="1038" width="7.5" height="7.5" fill="#41b842"/>
<rect x="137" y="1038" width="7.5" height="7.5" fill="#41b840"/>
<rect x="144" y="1038" width="7.5" height="7.5" fill="#40b73d"/>
<rect x="151" y="1038" width="7.5" height="7.5" fill="#3fb73b"/>
<rect x="158" y="1038" width="7.5" height="7.5" fill="#3fb639"/>
<rect x="165" y="1038" width="7.5" height="7.5" fill="#3eb536"/>
<rect x="172" y="1038" width="7.5" height="7.5" fill="#3db533"/>
<rect x="179" y="1038" width="7.5" height="7.5" fill="#3db430"/>
<rect x="186" y="1038" width="7.5" height="7.5" fill="#3db52f"/>
<rect x="193" y="1038" width="7.5" height="7.5" fill="#3cb52d"/>
<rect x="200" y="1038" width="7.5" height="7.5" fill="#3cb52b"/>
<rect x="207" y="1038" width="7.5" height="7.5" fill="#3cb629"/>
<rect x="214" y="1038" width="7.5" height="7.5" fill="#3db726"/>
<rect x="221" y="1038" width="7.5" height="7.5" fill="#3fb924"/>
<rect x="228" y="1038" width="7.5" height="7.5" fill="#40bc21"/>
<rect x="235" y="1038" width="7.5" height="7.5" fill="#43bf1e"/>
<rect x="242" y="1038" width="7.5" height="7.5" fill="#49c51b"/>
<rect x="249" y="1038" width="7.5" height="7.5" fill="#50cc18"/>
<rect x="256" y="1038" width="7.5" height="7.5" fill="#54d016"/>
<rect x="263" y="1038" width="7.5" height="7.5" fill="#5fd417"/>
<rect x="270" y="1038" width="7.5" height="7.5" fill="#6cd918"/>
<rect x="277" y="1038" width="7.5" height="7.5" fill="#7cdf18"/>
<rect x="284" y="1038" width="7.5" height="7.5" fill="#92e71a"/>
<rect x="291" y="1038" width="7.5" height="7.5" fill="#aeed1d"/>
<rect x="298" y="1038" width="7.5" height="7.5" fill="#c9f221"/>
<rect x="305" y="1038" width="7.5" height="7.5" fill="#dcf426"/>
<rect x="312" y="1038" width="7.5" height="7.5" fill="#eaf32b"/>
<rect x="319" y="1038" width="7.5" height="7.5" fill="#f2f22f"/>
<rect x="326" y="1038" width="7.5" height="7.5" fill="#f6f02e"/>
<rect x="333" y="1038" width="7.5" height="7.5" fill="#f8ee2c"/>
<rect x="340" y="1038" width="7.5" height="7.5" fill="#faed2c"/>
<rect x="347" y="1038" width="7.5" height="7.5" fill="#fbe62a"/>
<rect x="354" y="1038" width="7.5" height="7.5" fill="#fce026"/>
<rect x="361" y="1038" width="7.5" height="7.5" fill="#fdd923"/>
<rect x="368" y="1038" width="7.5" height="7.5" fill="#fed421"/>
<rect x="375" y="1038" width="7.5" height="7.5" fill="#ffcf20"/>
<rect x="382" y="1038" width="7.5" height="7.5" fill="#ffc61f"/>
<rect x="130" y="1045" width="7.5" height="7.5" fill="#43ba48"/>
<rect x="137" y="1045" width="7.5" height="7.5" fill="#43b946"/>
<rect x="144" y="1045" width="7.5" height="7.5" fill="#42b944"/>
<rect x="151" y="1045" width="7.5" height="7.5" fill="#41b842"/>
<rect x="158" y="1045" width="7.5" height="7.5" fill="#41b840"/>
<rect x="165" y="1045" width="7.5" height="7.5" fill="#40b73d"/>
<rect x="172" y="1045" width="7.5" height="7.5" fill="#3fb73a"/>
<rect x="179" y="1045" width="7.5" height="7.5" fill="#3eb637"/>
<rect x="186" y="1045" width="7.5" height="7.5" fill="#3eb534"/>
<rect x="193" y="1045" width="7.5" height="7.5" fill="#3db431"/>
<rect x="200" y="1045" width="7.5" height="7.5" fill="#3db52f"/>
<rect x="207" y="1045" width="7.5" height="7.5" fill="#3cb52d"/>
<rect x="214" y="1045" width="7.5" height="7.5" fill="#3cb62a"/>
<rect x="221" y="1045" width="7.5" height="7.5" fill="#3cb628"/>
<rect x="228" y="1045" width="7.5" height="7.5" fill="#3eb925"/>
<rect x="235" y="1045" width="7.5" height="7.5" fill="#40bb21"/>
<rect x="242" y="1045" width="7.5" height="7.5" fill="#43bf1e"/>
<rect x="249" y="1045" width="7.5" height="7.5" fill="#4ac61a"/>
<rect x="256" y="1045" width="7.5" height="7.5" fill="#51cd17"/>
<rect x="263" y="1045" width="7.5" height="7.5" fill="#59d217"/>
<rect x="270" y="1045" width="7.5" height="7.5" fill="#68d818"/>
<rect x="277" y="1045" width="7.5" height="7.5" fill="#79de18"/>
<rect x="284" y="1045" width="7.5" height="7.5" fill="#93e71a"/>
<rect x="291" y="1045" width="7.5" height="7.5" fill="#b6ef1e"/>
<rect x="298" y="1045" width="7.5" height="7.5" fill="#d2f323"/>
<rect x="305" y="1045" width="7.5" height="7.5" fill="#e6f42f"/>
<rect x="312" y="1045" width="7.5" height="7.5" fill="#f2f442"/>
<rect x="319" y="1045" width="7.5" height="7.5" fill="#f7f351"/>
<rect x="326" y="1045" width="7.5" height="7.5" fill="#faf25b"/>
<rect x="333" y="1045" width="7.5" height="7.5" fill="#fbf061"/>
<rect x="340" y="1045" width="7.5" height="7.5" fill="#fdea5f"/>
<rect x="347" y="1045" width="7.5" height="7.5" fill="#fde457"/>
<rect x="354" y="1045" width="7.5" height="7.5" fill="#fedc49"/>
<rect x="361" y="1045" width="7.5" height="7.5" fill="#ffd437"/>
<rect x="368" y="1045" width="7.5" height="7.5" fill="#ffc626"/>
<rect x="375" y="1045" width="7.5" height="7.5" fill="#ffbb1d"/>
<rect x="382" y="1045" width="7.5" height="7.5" fill="#ffb21c"/>
<rect x="389" y="1045" width="7.5" height="7.5" fill="#ffab1b"/>
<rect x="396" y="1045" width="7.5" height="7.5" fill="#ffa41b"/>
<rect x="130" y="1052" width="7.5" height="7.5" fill="#46bc4f"/>
<rect x="137" y="1052" width="7.5" height="7.5" fill="#45bb4e"/>
<rect x="144" y="1052" width="7.5" height="7.5" fill="#45bb4c"/>
<rect x="151" y="1052" width="7.5" height="7.5" fill="#44ba4a"/>
<rect x="158" y="1052" width="7.5" height="7.5" fill="#43ba48"/>
<rect x="165" y="1052" width="7.5" height="7.5" fill="#42b945"/>
<rect x="172" y="1052" width="7.5" height="7.5" fill="#42b943"/>
<rect x="179" y="1052" width="7.5" height="7.5" fill="#41b840"/>
<rect x="186" y="1052" width="7.5" height="7.5" fill="#40b73d"/>
<rect x="193" y="1052" width="7.5" height="7.5" fill="#3fb639"/>
<rect x="200" y="1052" width="7.5" height="7.5" fill="#3eb536"/>
<rect x="207" y="1052" width="7.5" height="7.5" fill="#3db431"/>
<rect x="214" y="1052" width="7.5" height="7.5" fill="#3db52f"/>
<rect x="221" y="1052" width="7.5" height="7.5" fill="#3cb52c"/>
<rect x="228" y="1052" width="7.5" height="7.5" fill="#3cb629"/>
<rect x="235" y="1052" width="7.5" height="7.5" fill="#3db826"/>
<rect x="242" y="1052" width="7.5" height="7.5" fill="#40bb22"/>
<rect x="249" y="1052" width="7.5" height="7.5" fill="#43bf1e"/>
<rect x="256" y="1052" width="7.5" height="7.5" fill="#4cc81a"/>
<rect x="263" y="1052" width="7.5" height="7.5" fill="#53cf16"/>
<rect x="270" y="1052" width="7.5" height="7.5" fill="#63d518"/>
<rect x="277" y="1052" width="7.5" height="7.5" fill="#77de18"/>
<rect x="284" y="1052" width="7.5" height="7.5" fill="#97e81d"/>
<rect x="291" y="1052" width="7.5" height="7.5" fill="#c7f338"/>
<rect x="298" y="1052" width="7.5" height="7.5" fill="#e5f65c"/>
<rect x="305" y="1052" width="7.5" height="7.5" fill="#f5f880"/>
<rect x="312" y="1052" width="7.5" height="7.5" fill="#faf89b"/>
<rect x="319" y="1052" width="7.5" height="7.5" fill="#fcf8ac"/>
<rect x="326" y="1052" width="7.5" height="7.5" fill="#fef7b5"/>
<rect x="333" y="1052" width="7.5" height="7.5" fill="#fef4b5"/>
<rect x="340" y="1052" width="7.5" height="7.5" fill="#fff0ab"/>
<rect x="347" y="1052" width="7.5" height="7.5" fill="#ffe999"/>
<rect x="354" y="1052" width="7.5" height="7.5" fill="#ffdc7d"/>
<rect x="361" y="1052" width="7.5" height="7.5" fill="#ffcb5c"/>
<rect x="368" y="1052" width="7.5" height="7.5" fill="#ffb83a"/>
<rect x="375" y="1052" width="7.5" height="7.5" fill="#ffa721"/>
<rect x="382" y="1052" width="7.5" height="7.5" fill="#ff9e1a"/>
<rect x="389" y="1052" width="7.5" height="7.5" fill="#ff9719"/>
<rect x="396" y="1052" width="7.5" height="7.5" fill="#ff9118"/>
<rect x="403" y="1052" width="7.5" height="7.5" fill="#ff8a18"/>
<rect x="130" y="1059" width="7.5" height="7.5" fill="#4bbf5d"/>
<rect x="137" y="1059" width="7.5" height="7.5" fill="#4abe59"/>
<rect x="144" y="1059" width="7.5" height="7.5" fill="#49bd55"/>
<rect x="151" y="1059" width="7.5" height="7.5" fill="#48bd52"/>
<rect x="158" y="1059" width="7.5" height="7.5" fill="#47bc51"/>
<rect x="165" y="1059" width="7.5" height="7.5" fill="#46bc4e"/>
<rect x="172" y="1059" width="7.5" height="7.5" fill="#45bb4c"/>
<rect x="179" y="1059" width="7.5" height="7.5" fill="#44ba4a"/>
<rect x="186" y="1059" width="7.5" height="7.5" fill="#43ba47"/>
<rect x="193" y="1059" width="7.5" height="7.5" fill="#42b944"/>
<rect x="200" y="1059" width="7.5" height="7.5" fill="#41b840"/>
<rect x="207" y="1059" width="7.5" height="7.5" fill="#40b73c"/>
<rect x="214" y="1059" width="7.5" height="7.5" fill="#3fb638"/>
<rect x="221" y="1059" width="7.5" height="7.5" fill="#3db533"/>
<rect x="228" y="1059" width="7.5" height="7.5" fill="#3db52f"/>
<rect x="235" y="1059" width="7.5" height="7.5" fill="#3cb52c"/>
<rect x="242" y="1059" width="7.5" height="7.5" fill="#3cb628"/>
<rect x="249" y="1059" width="7.5" height="7.5" fill="#3fba23"/>
<rect x="256" y="1059" width="7.5" height="7.5" fill="#43bf1d"/>
<rect x="263" y="1059" width="7.5" height="7.5" fill="#4fcb18"/>
<rect x="270" y="1059" width="7.5" height="7.5" fill="#5fd41c"/>
<rect x="277" y="1059" width="7.5" height="7.5" fill="#89e23c"/>
<rect x="284" y="1059" width="7.5" height="7.5" fill="#bef16b"/>
<rect x="291" y="1059" width="7.5" height="7.5" fill="#e9fa9e"/>
<rect x="298" y="1059" width="7.5" height="7.5" fill="#f9fcc7"/>
<rect x="305" y="1059" width="7.5" height="7.5" fill="#fefde3"/>
<rect x="312" y="1059" width="7.5" height="7.5" fill="#fffef2"/>
<rect x="319" y="1059" width="7.5" height="7.5" fill="#fffef8"/>
<rect x="326" y="1059" width="7.5" height="7.5" fill="#fffef8"/>
<rect x="333" y="1059" width="7.5" height="7.5" fill="#fffdf3"/>
<rect x="340" y="1059" width="7.5" height="7.5" fill="#fff8e6"/>
<rect x="347" y="1059" width="7.5" height="7.5" fill="#ffeecc"/>
<rect x="354" y="1059" width="7.5" height="7.5" fill="#ffdda6"/>
<rect x="361" y="1059" width="7.5" height="7.5" fill="#ffc578"/>
<rect x="368" y="1059" width="7.5" height="7.5" fill="#ffab49"/>
<rect x="375" y="1059" width="7.5" height="7.5" fill="#ff9426"/>
<rect x="382" y="1059" width="7.5" height="7.5" fill="#ff8417"/>
<rect x="389" y="1059" width="7.5" height="7.5" fill="#ff7c17"/>
<rect x="396" y="1059" width="7.5" height="7.5" fill="#ff7516"/>
<rect x="403" y="1059" width="7.5" height="7.5" fill="#ff6f16"/>
<rect x="410" y="1059" width="7.5" height="7.5" fill="#ff6916"/>
<rect x="137" y="1066" width="7.5" height="7.5" fill="#52c46d"/>
<rect x="144" y="1066" width="7.5" height="7.5" fill="#51c36a"/>
<rect x="151" y="1066" width="7.5" height="7.5" fill="#50c267"/>
<rect x="158" y="1066" width="7.5" height="7.5" fill="#4ec164"/>
<rect x="165" y="1066" width="7.5" height="7.5" fill="#4dc060"/>
<rect x="172" y="1066" width="7.5" height="7.5" fill="#4bbf5c"/>
<rect x="179" y="1066" width="7.5" height="7.5" fill="#49be57"/>
<rect x="186" y="1066" width="7.5" height="7.5" fill="#48bd53"/>
<rect x="193" y="1066" width="7.5" height="7.5" fill="#46bc50"/>
<rect x="200" y="1066" width="7.5" height="7.5" fill="#45bb4d"/>
<rect x="207" y="1066" width="7.5" height="7.5" fill="#44ba49"/>
<rect x="214" y="1066" width="7.5" height="7.5" fill="#42b945"/>
<rect x="221" y="1066" width="7.5" height="7.5" fill="#41b841"/>
<rect x="228" y="1066" width="7.5" height="7.5" fill="#3fb73c"/>
<rect x="235" y="1066" width="7.5" height="7.5" fill="#3eb535"/>
<rect x="242" y="1066" width="7.5" height="7.5" fill="#3db52f"/>
<rect x="249" y="1066" width="7.5" height="7.5" fill="#3cb62b"/>
<rect x="256" y="1066" width="7.5" height="7.5" fill="#40b926"/>
<rect x="263" y="1066" width="7.5" height="7.5" fill="#5ec93c"/>
<rect x="270" y="1066" width="7.5" height="7.5" fill="#92e06c"/>
<rect x="277" y="1066" width="7.5" height="7.5" fill="#c8f1a7"/>
<rect x="284" y="1066" width="7.5" height="7.5" fill="#f0fcda"/>
<rect x="291" y="1066" width="7.5" height="7.5" fill="#fefff9"/>
<rect x="298" y="1066" width="7.5" height="7.5" fill="#ffffff"/>
<rect x="305" y="1066" width="7.5" height="7.5" fill="#ffffff"/>
<rect x="312" y="1066" width="7.5" height="7.5" fill="#ffffff"/>
<rect x="319" y="1066" width="7.5" height="7.5" fill="#ffffff"/>
<rect x="326" y="1066" width="7.5" height="7.5" fill="#ffffff"/>
<rect x="333" y="1066" width="7.5" height="7.5" fill="#ffffff"/>
<rect x="340" y="1066" width="7.5" height="7.5" fill="#fffefd"/>
<rect x="347" y="1066" width="7.5" height="7.5" fill="#fff3e6"/>
<rect x="354" y="1066" width="7.5" height="7.5" fill="#ffdbbb"/>
<rect x="361" y="1066" width="7.5" height="7.5" fill="#ffba87"/>
<rect x="368" y="1066" width="7.5" height="7.5" fill="#ff9652"/>
<rect x="375" y="1066" width="7.5" height="7.5" fill="#ff7528"/>
<rect x="382" y="1066" width="7.5" height="7.5" fill="#ff6215"/>
<rect x="389" y="1066" width="7.5" height="7.5" fill="#ff5c15"/>
<rect x="396" y="1066" width="7.5" height="7.5" fill="#ff5714"/>
<rect x="403" y="1066" width="7.5" height="7.5" fill="#ff5214"/>
<rect x="410" y="1066" width="7.5" height="7.5" fill="#ff4e14"/>
<rect x="417" y="1066" width="7.5" height="7.5" fill="#fe4a14"/>
<rect x="137" y="1073" width="7.5" height="7.5" fill="#5bc982"/>
<rect x="144" y="1073" width="7.5" height="7.5" fill="#5ac980"/>
<rect x="151" y="1073" width="7.5" height="7.5" fill="#59c87e"/>
<rect x="158" y="1073" width="7.5" height="7.5" fill="#58c87c"/>
<rect x="165" y="1073" width="7.5" height="7.5" fill="#57c779"/>
<rect x="172" y="1073" width="7.5" height="7.5" fill="#56c677"/>
<rect x="179" y="1073" width="7.5" height="7.5" fill="#55c573"/>
<rect x="186" y="1073" width="7.5" height="7.5" fill="#53c470"/>
<rect x="193" y="1073" width="7.5" height="7.5" fill="#51c36c"/>
<rect x="200" y="1073" width="7.5" height="7.5" fill="#4fc267"/>
<rect x="207" y="1073" width="7.5" height="7.5" fill="#4dc061"/>
<rect x="214" y="1073" width="7.5" height="7.5" fill="#4abf5a"/>
<rect x="221" y="1073" width="7.5" height="7.5" fill="#48bd53"/>
<rect x="228" y="1073" width="7.5" height="7.5" fill="#46bb4e"/>
<rect x="235" y="1073" width="7.5" height="7.5" fill="#44ba49"/>
<rect x="242" y="1073" width="7.5" height="7.5" fill="#41b842"/>
<rect x="249" y="1073" width="7.5" height="7.5" fill="#4cbb47"/>
<rect x="256" y="1073" width="7.5" height="7.5" fill="#73ca6a"/>
<rect x="263" y="1073" width="7.5" height="7.5" fill="#aadfa1"/>
<rect x="270" y="1073" width="7.5" height="7.5" fill="#def4d7"/>
<rect x="277" y="1073" width="7.5" height="7.5" fill="#fdfefc"/>
<rect x="284" y="1073" width="7.5" height="7.5" fill="#ffffff"/>
<rect x="291" y="1073" width="7.5" height="7.5" fill="#ffffff"/>
<rect x="298" y="1073" width="7.5" height="7.5" fill="#ffffff"/>
<rect x="305" y="1073" width="7.5" height="7.5" fill="#ffffff"/>
<rect x="312" y="1073" width="7.5" height="7.5" fill="#ffffff"/>
<rect x="319" y="1073" width="7.5" height="7.5" fill="#ffffff"/>
<rect x="326" y="1073" width="7.5" height="7.5" fill="#ffffff"/>
<rect x="333" y="1073" width="7.5" height="7.5" fill="#ffffff"/>
<rect x="340" y="1073" width="7.5" height="7.5" fill="#ffffff"/>
<rect x="347" y="1073" width="7.5" height="7.5" fill="#fff4ef"/>
<rect x="354" y="1073" width="7.5" height="7.5" fill="#ffd4c3"/>
<rect x="361" y="1073" width="7.5" height="7.5" fill="#ffa88a"/>
<rect x="368" y="1073" width="7.5" height="7.5" fill="#fe7951"/>
<rect x="375" y="1073" width="7.5" height="7.5" fill="#fd5325"/>
<rect x="382" y="1073" width="7.5" height="7.5" fill="#fc4113"/>
<rect x="389" y="1073" width="7.5" height="7.5" fill="#fb3d12"/>
<rect x="396" y="1073" width="7.5" height="7.5" fill="#fb3a12"/>
<rect x="403" y="1073" width="7.5" height="7.5" fill="#fa3712"/>
<rect x="410" y="1073" width="7.5" height="7.5" fill="#fa3412"/>
<rect x="417" y="1073" width="7.5" height="7.5" fill="#f93211"/>
<rect x="424" y="1073" width="7.5" height="7.5" fill="#f93011"/>
<rect x="431" y="1073" width="7.5" height="7.5" fill="#f82e11"/>
<rect x="137" y="1080" width="7.5" height="7.5" fill="#64cf96"/>
<rect x="144" y="1080" width="7.5" height="7.5" fill="#64cf95"/>
<rect x="151" y="1080" width="7.5" height="7.5" fill="#63ce95"/>
<rect x="158" y="1080" width="7.5" height="7.5" fill="#63ce94"/>
<rect x="165" y="1080" width="7.5" height="7.5" fill="#63ce93"/>
<rect x="172" y="1080" width="7.5" height="7.5" fill="#62ce91"/>
<rect x="179" y="1080" width="7.5" height="7.5" fill="#61cd90"/>
<rect x="186" y="1080" width="7.5" height="7.5" fill="#61cd8f"/>
<rect x="193" y="1080" width="7.5" height="7.5" fill="#60cc8d"/>
<rect x="200" y="1080" width="7.5" height="7.5" fill="#5fcc8b"/>
<rect x="207" y="1080" width="7.5" height="7.5" fill="#5ecb89"/>
<rect x="214" y="1080" width="7.5" height="7.5" fill="#5dca86"/>
<rect x="221" y="1080" width="7.5" height="7.5" fill="#5bc982"/>
<rect x="228" y="1080" width="7.5" height="7.5" fill="#59c87d"/>
<rect x="235" y="1080" width="7.5" height="7.5" fill="#57c778"/>
<rect x="242" y="1080" width="7.5" height="7.5" fill="#6acc82"/>
<rect x="249" y="1080" width="7.5" height="7.5" fill="#94daa1"/>
<rect x="256" y="1080" width="7.5" height="7.5" fill="#c8ebcb"/>
<rect x="263" y="1080" width="7.5" height="7.5" fill="#f4fbf4"/>
<rect x="270" y="1080" width="7.5" height="7.5" fill="#ffffff"/>
<rect x="277" y="1080" width="7.5" height="7.5" fill="#ffffff"/>
<rect x="284" y="1080" width="7.5" height="7.5" fill="#ffffff"/>
<rect x="291" y="1080" width="7.5" height="7.5" fill="#ffffff"/>
<rect x="298" y="1080" width="7.5" height="7.5" fill="#ffffff"/>
<rect x="305" y="1080" width="7.5" height="7.5" fill="#ffffff"/>
<rect x="312" y="1080" width="7.5" height="7.5" fill="#ffffff"/>
<rect x="319" y="1080" width="7.5" height="7.5" fill="#ffffff"/>
<rect x="326" y="1080" width="7.5" height="7.5" fill="#ffffff"/>
<rect x="333" y="1080" width="7.5" height="7.5" fill="#ffffff"/>
<rect x="340" y="1080" width="7.5" height="7.5" fill="#ffffff"/>
<rect x="347" y="1080" width="7.5" height="7.5" fill="#fff0ee"/>
<rect x="354" y="1080" width="7.5" height="7.5" fill="#fdc4be"/>
<rect x="361" y="1080" width="7.5" height="7.5" fill="#fb8c80"/>
<rect x="368" y="1080" width="7.5" height="7.5" fill="#f85546"/>
<rect x="375" y="1080" width="7.5" height="7.5" fill="#f62d1c"/>
<rect x="382" y="1080" width="7.5" height="7.5" fill="#f62110"/>
<rect x="389" y="1080" width="7.5" height="7.5" fill="#f62110"/>
<rect x="396" y="1080" width="7.5" height="7.5" fill="#f52010"/>
<rect x="403" y="1080" width="7.5" height="7.5" fill="#f52010"/>
<rect x="410" y="1080" width="7.5" height="7.5" fill="#f51f10"/>
<rect x="417" y="1080" width="7.5" height="7.5" fill="#f51f10"/>
<rect x="424" y="1080" width="7.5" height="7.5" fill="#f51f10"/>
<rect x="431" y="1080" width="7.5" height="7.5" fill="#f51e10"/>
<rect x="438" y="1080" width="7.5" height="7.5" fill="#f51e10"/>
<rect x="137" y="1087" width="7.5" height="7.5" fill="#6ed4aa"/>
<rect x="144" y="1087" width="7.5" height="7.5" fill="#6ed4aa"/>
<rect x="151" y="1087" width="7.5" height="7.5" fill="#6ed4aa"/>
<rect x="158" y="1087" width="7.5" height="7.5" fill="#6ed4ab"/>
<rect x="165" y="1087" width="7.5" height="7.5" fill="#6ed4ab"/>
<rect x="172" y="1087" width="7.5" height="7.5" fill="#6fd4ac"/>
<rect x="179" y="1087" width="7.5" height="7.5" fill="#6fd4ac"/>
<rect x="186" y="1087" width="7.5" height="7.5" fill="#6fd5ad"/>
<rect x="193" y="1087" width="7.5" height="7.5" fill="#70d5ad"/>
<rect x="200" y="1087" width="7.5" height="7.5" fill="#70d5ae"/>
<rect x="207" y="1087" width="7.5" height="7.5" fill="#71d5af"/>
<rect x="214" y="1087" width="7.5" height="7.5" fill="#71d5b0"/>
<rect x="221" y="1087" width="7.5" height="7.5" fill="#72d6b2"/>
<rect x="228" y="1087" width="7.5" height="7.5" fill="#74d6b4"/>
<rect x="235" y="1087" width="7.5" height="7.5" fill="#8cddc2"/>
<rect x="242" y="1087" width="7.5" height="7.5" fill="#b5e9d9"/>
<rect x="249" y="1087" width="7.5" height="7.5" fill="#dff6f0"/>
<rect x="256" y="1087" width="7.5" height="7.5" fill="#fcfefe"/>
<rect x="263" y="1087" width="7.5" height="7.5" fill="#ffffff"/>
<rect x="270" y="1087" width="7.5" height="7.5" fill="#ffffff"/>
<rect x="277" y="1087" width="7.5" height="7.5" fill="#ffffff"/>
<rect x="284" y="1087" width="7.5" height="7.5" fill="#ffffff"/>
<rect x="291" y="1087" width="7.5" height="7.5" fill="#ffffff"/>
<rect x="298" y="1087" width="7.5" height="7.5" fill="#ffffff"/>
<rect x="305" y="1087" width="7.5" height="7.5" fill="#ffffff"/>
<rect x="312" y="1087" width="7.5" height="7.5" fill="#ffffff"/>
<rect x="319" y="1087" width="7.5" height="7.5" fill="#ffffff"/>
<rect x="326" y="1087" width="7.5" height="7.5" fill="#ffffff"/>
<rect x="333" y="1087" width="7.5" height="7.5" fill="#ffffff"/>
<rect x="340" y="1087" width="7.5" height="7.5" fill="#ffffff"/>
<rect x="347" y="1087" width="7.5" height="7.5" fill="#fde4e3"/>
<rect x="354" y="1087" width="7.5" height="7.5" fill="#faadac"/>
<rect x="361" y="1087" width="7.5" height="7.5" fill="#f7706d"/>
<rect x="368" y="1087" width="7.5" height="7.5" fill="#f43935"/>
<rect x="375" y="1087" width="7.5" height="7.5" fill="#f21914"/>
<rect x="382" y="1087" width="7.5" height="7.5" fill="#f21610"/>
<rect x="389" y="1087" width="7.5" height="7.5" fill="#f21610"/>
<rect x="396" y="1087" width="7.5" height="7.5" fill="#f21610"/>
<rect x="403" y="1087" width="7.5" height="7.5" fill="#f21610"/>
<rect x="410" y="1087" width="7.5" height="7.5" fill="#f21610"/>
<rect x="417" y="1087" width="7.5" height="7.5" fill="#f21710"/>
<rect x="424" y="1087" width="7.5" height="7.5" fill="#f21710"/>
<rect x="431" y="1087" width="7.5" height="7.5" fill="#f21710"/>
<rect x="438" y="1087" width="7.5" height="7.5" fill="#f21710"/>
<rect x="445" y="1087" width="7.5" height="7.5" fill="#f21710"/>
<rect x="137" y="1094" width="7.5" height="7.5" fill="#78d8bd"/>
<rect x="144" y="1094" width="7.5" height="7.5" fill="#78d8be"/>
<rect x="151" y="1094" width="7.5" height="7.5" fill="#79d9c0"/>
<rect x="158" y="1094" width="7.5" height="7.5" fill="#7ad9c1"/>
<rect x="165" y="1094" width="7.5" height="7.5" fill="#7bd9c3"/>
<rect x="172" y="1094" width="7.5" height="7.5" fill="#7bdac4"/>
<rect x="179" y="1094" width="7.5" height="7.5" fill="#7cdac7"/>
<rect x="186" y="1094" width="7.5" height="7.5" fill="#7edac9"/>
<rect x="193" y="1094" width="7.5" height="7.5" fill="#7fdbcc"/>
<rect x="200" y="1094" width="7.5" height="7.5" fill="#81dccf"/>
<rect x="207" y="1094" width="7.5" height="7.5" fill="#82dcd2"/>
<rect x="214" y="1094" width="7.5" height="7.5" fill="#83dcd5"/>
<rect x="221" y="1094" width="7.5" height="7.5" fill="#85dbd9"/>
<rect x="228" y="1094" width="7.5" height="7.5" fill="#99e0e3"/>
<rect x="235" y="1094" width="7.5" height="7.5" fill="#bdeaef"/>
<rect x="242" y="1094" width="7.5" height="7.5" fill="#e2f5fa"/>
<rect x="249" y="1094" width="7.5" height="7.5" fill="#fcfeff"/>
<rect x="256" y="1094" width="7.5" height="7.5" fill="#ffffff"/>
<rect x="263" y="1094" width="7.5" height="7.5" fill="#ffffff"/>
<rect x="270" y="1094" width="7.5" height="7.5" fill="#ffffff"/>
<rect x="277" y="1094" width="7.5" height="7.5" fill="#ffffff"/>
<rect x="284" y="1094" width="7.5" height="7.5" fill="#ffffff"/>
<rect x="291" y="1094" width="7.5" height="7.5" fill="#ffffff"/>
<rect x="298" y="1094" width="7.5" height="7.5" fill="#ffffff"/>
<rect x="305" y="1094" width="7.5" height="7.5" fill="#ffffff"/>
<rect x="312" y="1094" width="7.5" height="7.5" fill="#ffffff"/>
<rect x="319" y="1094" width="7.5" height="7.5" fill="#ffffff"/>
<rect x="326" y="1094" width="7.5" height="7.5" fill="#ffffff"/>
<rect x="333" y="1094" width="7.5" height="7.5" fill="#ffffff"/>
<rect x="340" y="1094" width="7.5" height="7.5" fill="#fef7f7"/>
<rect x="347" y="1094" width="7.5" height="7.5" fill="#fccbcc"/>
<rect x="354" y="1094" width="7.5" height="7.5" fill="#f88d90"/>
<rect x="361" y="1094" width="7.5" height="7.5" fill="#f45053"/>
<rect x="368" y="1094" width="7.5" height="7.5" fill="#f12125"/>
<rect x="375" y="1094" width="7.5" height="7.5" fill="#f01013"/>
<rect x="382" y="1094" width="7.5" height="7.5" fill="#f01013"/>
<rect x="389" y="1094" width="7.5" height="7.5" fill="#f01012"/>
<rect x="396" y="1094" width="7.5" height="7.5" fill="#f01012"/>
<rect x="403" y="1094" width="7.5" height="7.5" fill="#f01011"/>
<rect x="410" y="1094" width="7.5" height="7.5" fill="#f01011"/>
<rect x="417" y="1094" width="7.5" height="7.5" fill="#f01011"/>
<rect x="424" y="1094" width="7.5" height="7.5" fill="#f01011"/>
<rect x="431" y="1094" width="7.5" height="7.5" fill="#f01010"/>
<rect x="438" y="1094" width="7.5" height="7.5" fill="#f01010"/>
<rect x="445" y="1094" width="7.5" height="7.5" fill="#f01010"/>
<rect x="452" y="1094" width="7.5" height="7.5" fill="#f01010"/>
<rect x="459" y="1094" width="7.5" height="7.5" fill="#f01110"/>
<rect x="144" y="1101" width="7.5" height="7.5" fill="#81dcd1"/>
<rect x="151" y="1101" width="7.5" height="7.5" fill="#83dcd3"/>
<rect x="158" y="1101" width="7.5" height="7.5" fill="#83dcd4"/>
<rect x="165" y="1101" width="7.5" height="7.5" fill="#83dcd6"/>
<rect x="172" y="1101" width="7.5" height="7.5" fill="#84dbd8"/>
<rect x="179" y="1101" width="7.5" height="7.5" fill="#84dada"/>
<rect x="186" y="1101" width="7.5" height="7.5" fill="#85dadd"/>
<rect x="193" y="1101" width="7.5" height="7.5" fill="#85d9df"/>
<rect x="200" y="1101" width="7.5" height="7.5" fill="#86d8e3"/>
<rect x="207" y="1101" width="7.5" height="7.5" fill="#86d7e6"/>
<rect x="214" y="1101" width="7.5" height="7.5" fill="#86d5ea"/>
<rect x="221" y="1101" width="7.5" height="7.5" fill="#94d7f0"/>
<rect x="228" y="1101" width="7.5" height="7.5" fill="#b2e0f5"/>
<rect x="235" y="1101" width="7.5" height="7.5" fill="#d7edfb"/>
<rect x="242" y="1101" width="7.5" height="7.5" fill="#f6fbfe"/>
<rect x="249" y="1101" width="7.5" height="7.5" fill="#ffffff"/>
<rect x="256" y="1101" width="7.5" height="7.5" fill="#ffffff"/>
<rect x="263" y="1101" width="7.5" height="7.5" fill="#ffffff"/>
<rect x="270" y="1101" width="7.5" height="7.5" fill="#ffffff"/>
<rect x="277" y="1101" width="7.5" height="7.5" fill="#ffffff"/>
<rect x="284" y="1101" width="7.5" height="7.5" fill="#ffffff"/>
<rect x="291" y="1101" width="7.5" height="7.5" fill="#ffffff"/>
<rect x="298" y="1101" width="7.5" height="7.5" fill="#ffffff"/>
<rect x="305" y="1101" width="7.5" height="7.5" fill="#ffffff"/>
<rect x="312" y="1101" width="7.5" height="7.5" fill="#ffffff"/>
<rect x="319" y="1101" width="7.5" height="7.5" fill="#ffffff"/>
<rect x="326" y="1101" width="7.5" height="7.5" fill="#ffffff"/>
<rect x="333" y="1101" width="7.5" height="7.5" fill="#fffdfd"/>
<rect x="340" y="1101" width="7.5" height="7.5" fill="#fddbdd"/>
<rect x="347" y="1101" width="7.5" height="7.5" fill="#faa3a7"/>
<rect x="354" y="1101" width="7.5" height="7.5" fill="#f6656b"/>
<rect x="361" y="1101" width="7.5" height="7.5" fill="#f23038"/>
<rect x="368" y="1101" width="7.5" height="7.5" fill="#f0121b"/>
<rect x="375" y="1101" width="7.5" height="7.5" fill="#f01018"/>
<rect x="382" y="1101" width="7.5" height="7.5" fill="#f01018"/>
<rect x="389" y="1101" width="7.5" height="7.5" fill="#f01017"/>
<rect x="396" y="1101" width="7.5" height="7.5" fill="#f01016"/>
<rect x="403" y="1101" width="7.5" height="7.5" fill="#f01016"/>
<rect x="410" y="1101" width="7.5" height="7.5" fill="#f01015"/>
<rect x="417" y="1101" width="7.5" height="7.5" fill="#f01015"/>
<rect x="424" y="1101" width="7.5" height="7.5" fill="#f01014"/>
<rect x="431" y="1101" width="7.5" height="7.5" fill="#f01014"/>
<rect x="438" y="1101" width="7.5" height="7.5" fill="#f01013"/>
<rect x="445" y="1101" width="7.5" height="7.5" fill="#f01013"/>
<rect x="452" y="1101" width="7.5" height="7.5" fill="#f01013"/>
<rect x="459" y="1101" width="7.5" height="7.5" fill="#f01013"/>
<rect x="466" y="1101" width="7.5" height="7.5" fill="#f01012"/>
<rect x="144" y="1108" width="7.5" height="7.5" fill="#85dadd"/>
<rect x="151" y="1108" width="7.5" height="7.5" fill="#85d9de"/>
<rect x="158" y="1108" width="7.5" height="7.5" fill="#85d9e0"/>
<rect x="165" y="1108" width="7.5" height="7.5" fill="#86d8e3"/>
<rect x="172" y="1108" width="7.5" height="7.5" fill="#86d7e5"/>
<rect x="179" y="1108" width="7.5" height="7.5" fill="#86d6e8"/>
<rect x="186" y="1108" width="7.5" height="7.5" fill="#86d5eb"/>
<rect x="193" y="1108" width="7.5" height="7.5" fill="#85d3ed"/>
<rect x="200" y="1108" width="7.5" height="7.5" fill="#84cfef"/>
<rect x="207" y="1108" width="7.5" height="7.5" fill="#81cbf0"/>
<rect x="214" y="1108" width="7.5" height="7.5" fill="#85c8f2"/>
<rect x="221" y="1108" width="7.5" height="7.5" fill="#9dd0f6"/>
<rect x="228" y="1108" width="7.5" height="7.5" fill="#c0def9"/>
<rect x="235" y="1108" width="7.5" height="7.5" fill="#e4effd"/>
<rect x="242" y="1108" width="7.5" height="7.5" fill="#fdfeff"/>
<rect x="249" y="1108" width="7.5" height="7.5" fill="#ffffff"/>
<rect x="256" y="1108" width="7.5" height="7.5" fill="#ffffff"/>
<rect x="263" y="1108" width="7.5" height="7.5" fill="#ffffff"/>
<rect x="270" y="1108" width="7.5" height="7.5" fill="#ffffff"/>
<rect x="277" y="1108" width="7.5" height="7.5" fill="#ffffff"/>
<rect x="284" y="1108" width="7.5" height="7.5" fill="#ffffff"/>
<rect x="291" y="1108" width="7.5" height="7.5" fill="#ffffff"/>
<rect x="298" y="1108" width="7.5" height="7.5" fill="#ffffff"/>
<rect x="305" y="1108" width="7.5" height="7.5" fill="#ffffff"/>
<rect x="312" y="1108" width="7.5" height="7.5" fill="#ffffff"/>
<rect x="319" y="1108" width="7.5" height="7.5" fill="#ffffff"/>
<rect x="326" y="1108" width="7.5" height="7.5" fill="#fffefe"/>
<rect x="333" y="1108" width="7.5" height="7.5" fill="#fee0e3"/>
<rect x="340" y="1108" width="7.5" height="7.5" fill="#fbabb2"/>
<rect x="347" y="1108" width="7.5" height="7.5" fill="#f86f79"/>
<rect x="354" y="1108" width="7.5" height="7.5" fill="#f43945"/>
<rect x="361" y="1108" width="7.5" height="7.5" fill="#f21623"/>
<rect x="368" y="1108" width="7.5" height="7.5" fill="#f1101c"/>
<rect x="375" y="1108" width="7.5" height="7.5" fill="#f1101b"/>
<rect x="382" y="1108" width="7.5" height="7.5" fill="#f1101b"/>
<rect x="389" y="1108" width="7.5" height="7.5" fill="#f1101a"/>
<rect x="396" y="1108" width="7.5" height="7.5" fill="#f01019"/>
<rect x="403" y="1108" width="7.5" height="7.5" fill="#f01019"/>
<rect x="410" y="1108" width="7.5" height="7.5" fill="#f01019"/>
<rect x="417" y="1108" width="7.5" height="7.5" fill="#f01018"/>
<rect x="424" y="1108" width="7.5" height="7.5" fill="#f01018"/>
<rect x="431" y="1108" width="7.5" height="7.5" fill="#f01017"/>
<rect x="438" y="1108" width="7.5" height="7.5" fill="#f01017"/>
<rect x="445" y="1108" width="7.5" height="7.5" fill="#f01016"/>
<rect x="452" y="1108" width="7.5" height="7.5" fill="#f01016"/>
<rect x="459" y="1108" width="7.5" height="7.5" fill="#f01015"/>
<rect x="466" y="1108" width="7.5" height="7.5" fill="#f01015"/>
<rect x="473" y="1108" width="7.5" height="7.5" fill="#f01015"/>
<rect x="144" y="1115" width="7.5" height="7.5" fill="#86d6e7"/>
<rect x="151" y="1115" width="7.5" height="7.5" fill="#86d6e9"/>
<rect x="158" y="1115" width="7.5" height="7.5" fill="#86d5eb"/>
<rect x="165" y="1115" width="7.5" height="7.5" fill="#86d3ed"/>
<rect x="172" y="1115" width="7.5" height="7.5" fill="#84d1ee"/>
<rect x="179" y="1115" width="7.5" height="7.5" fill="#83cdef"/>
<rect x="186" y="1115" width="7.5" height="7.5" fill="#81caf0"/>
<rect x="193" y="1115" width="7.5" height="7.5" fill="#7ec6f1"/>
<rect x="200" y="1115" width="7.5" height="7.5" fill="#7bc1f2"/>
<rect x="207" y="1115" width="7.5" height="7.5" fill="#77baf3"/>
<rect x="214" y="1115" width="7.5" height="7.5" fill="#83bcf4"/>
<rect x="221" y="1115" width="7.5" height="7.5" fill="#9fc7f7"/>
<rect x="228" y="1115" width="7.5" height="7.5" fill="#c2d8fa"/>
<rect x="235" y="1115" width="7.5" height="7.5" fill="#e3ebfd"/>
<rect x="242" y="1115" width="7.5" height="7.5" fill="#fbfcff"/>
<rect x="249" y="1115" width="7.5" height="7.5" fill="#ffffff"/>
<rect x="256" y="1115" width="7.5" height="7.5" fill="#ffffff"/>
<rect x="263" y="1115" width="7.5" height="7.5" fill="#ffffff"/>
<rect x="270" y="1115" width="7.5" height="7.5" fill="#ffffff"/>
<rect x="277" y="1115" width="7.5" height="7.5" fill="#ffffff"/>
<rect x="284" y="1115" width="7.5" height="7.5" fill="#ffffff"/>
<rect x="291" y="1115" width="7.5" height="7.5" fill="#ffffff"/>
<rect x="298" y="1115" width="7.5" height="7.5" fill="#ffffff"/>
<rect x="305" y="1115" width="7.5" height="7.5" fill="#ffffff"/>
<rect x="312" y="1115" width="7.5" height="7.5" fill="#ffffff"/>
<rect x="319" y="1115" width="7.5" height="7.5" fill="#fff9fa"/>
<rect x="326" y="1115" width="7.5" height="7.5" fill="#fed8df"/>
<rect x="333" y="1115" width="7.5" height="7.5" fill="#fda7b3"/>
<rect x="340" y="1115" width="7.5" height="7.5" fill="#fb6e7e"/>
<rect x="347" y="1115" width="7.5" height="7.5" fill="#f83b4e"/>
<rect x="354" y="1115" width="7.5" height="7.5" fill="#f6182c"/>
<rect x="361" y="1115" width="7.5" height="7.5" fill="#f41022"/>
<rect x="368" y="1115" width="7.5" height="7.5" fill="#f31020"/>
<rect x="375" y="1115" width="7.5" height="7.5" fill="#f2101e"/>
<rect x="382" y="1115" width="7.5" height="7.5" fill="#f2101d"/>
<rect x="389" y="1115" width="7.5" height="7.5" fill="#f2101d"/>
<rect x="396" y="1115" width="7.5" height="7.5" fill="#f1101c"/>
<rect x="403" y="1115" width="7.5" height="7.5" fill="#f1101b"/>
<rect x="410" y="1115" width="7.5" height="7.5" fill="#f1101b"/>
<rect x="417" y="1115" width="7.5" height="7.5" fill="#f1101a"/>
<rect x="424" y="1115" width="7.5" height="7.5" fill="#f1101a"/>
<rect x="431" y="1115" width="7.5" height="7.5" fill="#f01019"/>
<rect x="438" y="1115" width="7.5" height="7.5" fill="#f01019"/>
<rect x="445" y="1115" width="7.5" height="7.5" fill="#f01019"/>
<rect x="452" y="1115" width="7.5" height="7.5" fill="#f01018"/>
<rect x="459" y="1115" width="7.5" height="7.5" fill="#f01018"/>
<rect x="466" y="1115" width="7.5" height="7.5" fill="#f01018"/>
<rect x="473" y="1115" width="7.5" height="7.5" fill="#f01017"/>
<rect x="151" y="1122" width="7.5" height="7.5" fill="#83cfef"/>
<rect x="158" y="1122" width="7.5" height="7.5" fill="#82ccef"/>
<rect x="165" y="1122" width="7.5" height="7.5" fill="#80c9f0"/>
<rect x="172" y="1122" width="7.5" height="7.5" fill="#7ec6f1"/>
<rect x="179" y="1122" width="7.5" height="7.5" fill="#7cc2f2"/>
<rect x="186" y="1122" width="7.5" height="7.5" fill="#78bdf3"/>
<rect x="193" y="1122" width="7.5" height="7.5" fill="#75b7f3"/>
<rect x="200" y="1122" width="7.5" height="7.5" fill="#70b0f2"/>
<rect x="207" y="1122" width="7.5" height="7.5" fill="#6da9f2"/>
<rect x="214" y="1122" width="7.5" height="7.5" fill="#7bacf4"/>
<rect x="221" y="1122" width="7.5" height="7.5" fill="#93b5f6"/>
<rect x="228" y="1122" width="7.5" height="7.5" fill="#b2c6f9"/>
<rect x="235" y="1122" width="7.5" height="7.5" fill="#d2dafc"/>
<rect x="242" y="1122" width="7.5" height="7.5" fill="#edeffe"/>
<rect x="249" y="1122" width="7.5" height="7.5" fill="#fdfdff"/>
<rect x="256" y="1122" width="7.5" height="7.5" fill="#ffffff"/>
<rect x="263" y="1122" width="7.5" height="7.5" fill="#ffffff"/>
<rect x="270" y="1122" width="7.5" height="7.5" fill="#ffffff"/>
<rect x="277" y="1122" width="7.5" height="7.5" fill="#ffffff"/>
<rect x="284" y="1122" width="7.5" height="7.5" fill="#ffffff"/>
<rect x="291" y="1122" width="7.5" height="7.5" fill="#ffffff"/>
<rect x="298" y="1122" width="7.5" height="7.5" fill="#ffffff"/>
<rect x="305" y="1122" width="7.5" height="7.5" fill="#fffcfd"/>
<rect x="312" y="1122" width="7.5" height="7.5" fill="#ffe8f0"/>
<rect x="319" y="1122" width="7.5" height="7.5" fill="#ffc4d5"/>
<rect x="326" y="1122" width="7.5" height="7.5" fill="#ff96ae"/>
<rect x="333" y="1122" width="7.5" height="7.5" fill="#fe6380"/>
<rect x="340" y="1122" width="7.5" height="7.5" fill="#fc3555"/>
<rect x="347" y="1122" width="7.5" height="7.5" fill="#fa1635"/>
<rect x="354" y="1122" width="7.5" height="7.5" fill="#f8102a"/>
<rect x="361" y="1122" width="7.5" height="7.5" fill="#f71028"/>
<rect x="368" y="1122" width="7.5" height="7.5" fill="#f61025"/>
<rect x="375" y="1122" width="7.5" height="7.5" fill="#f51023"/>
<rect x="382" y="1122" width="7.5" height="7.5" fill="#f41022"/>
<rect x="389" y="1122" width="7.5" height="7.5" fill="#f31020"/>
<rect x="396" y="1122" width="7.5" height="7.5" fill="#f2101f"/>
<rect x="403" y="1122" width="7.5" height="7.5" fill="#f2101e"/>
<rect x="410" y="1122" width="7.5" height="7.5" fill="#f2101d"/>
<rect x="417" y="1122" width="7.5" height="7.5" fill="#f1101c"/>
<rect x="424" y="1122" width="7.5" height="7.5" fill="#f1101c"/>
<rect x="431" y="1122" width="7.5" height="7.5" fill="#f1101b"/>
<rect x="438" y="1122" width="7.5" height="7.5" fill="#f1101b"/>
<rect x="445" y="1122" width="7.5" height="7.5" fill="#f1101b"/>
<rect x="452" y="1122" width="7.5" height="7.5" fill="#f1101a"/>
<rect x="459" y="1122" width="7.5" height="7.5" fill="#f1101a"/>
<rect x="151" y="1129" width="7.5" height="7.5" fill="#7ec6f1"/>
<rect x="158" y="1129" width="7.5" height="7.5" fill="#7cc3f2"/>
<rect x="165" y="1129" width="7.5" height="7.5" fill="#7abff3"/>
<rect x="172" y="1129" width="7.5" height="7.5" fill="#77bbf3"/>
<rect x="179" y="1129" width="7.5" height="7.5" fill="#74b5f3"/>
<rect x="186" y="1129" width="7.5" height="7.5" fill="#70aff2"/>
<rect x="193" y="1129" width="7.5" height="7.5" fill="#6ba8f2"/>
<rect x="200" y="1129" width="7.5" height="7.5" fill="#66a0f2"/>
<rect x="207" y="1129" width="7.5" height="7.5" fill="#5f95f2"/>
<rect x="214" y="1129" width="7.5" height="7.5" fill="#6692f3"/>
<rect x="221" y="1129" width="7.5" height="7.5" fill="#7998f5"/>
<rect x="228" y="1129" width="7.5" height="7.5" fill="#93a6f7"/>
<rect x="235" y="1129" width="7.5" height="7.5" fill="#b1baf9"/>
<rect x="242" y="1129" width="7.5" height="7.5" fill="#cdd0fb"/>
<rect x="249" y="1129" width="7.5" height="7.5" fill="#e4e4fd"/>
<rect x="256" y="1129" width="7.5" height="7.5" fill="#f3f2fe"/>
<rect x="263" y="1129" width="7.5" height="7.5" fill="#fbfafe"/>
<rect x="270" y="1129" width="7.5" height="7.5" fill="#fefdff"/>
<rect x="277" y="1129" width="7.5" height="7.5" fill="#fefdff"/>
<rect x="284" y="1129" width="7.5" height="7.5" fill="#fefafe"/>
<rect x="291" y="1129" width="7.5" height="7.5" fill="#fdf2fa"/>
<rect x="298" y="1129" width="7.5" height="7.5" fill="#fde1f2"/>
<rect x="305" y="1129" width="7.5" height="7.5" fill="#fec6e1"/>
<rect x="312" y="1129" width="7.5" height="7.5" fill="#fea2c7"/>
<rect x="319" y="1129" width="7.5" height="7.5" fill="#ff78a4"/>
<rect x="326" y="1129" width="7.5" height="7.5" fill="#ff4d7f"/>
<rect x="333" y="1129" width="7.5" height="7.5" fill="#fe295c"/>
<rect x="340" y="1129" width="7.5" height="7.5" fill="#fd1443"/>
<rect x="347" y="1129" width="7.5" height="7.5" fill="#fc113b"/>
<rect x="354" y="1129" width="7.5" height="7.5" fill="#fa1134"/>
<rect x="361" y="1129" width="7.5" height="7.5" fill="#f9102f"/>
<rect x="368" y="1129" width="7.5" height="7.5" fill="#f8102a"/>
<rect x="375" y="1129" width="7.5" height="7.5" fill="#f71028"/>
<rect x="382" y="1129" width="7.5" height="7.5" fill="#f61026"/>
<rect x="389" y="1129" width="7.5" height="7.5" fill="#f51024"/>
<rect x="396" y="1129" width="7.5" height="7.5" fill="#f41023"/>
<rect x="403" y="1129" width="7.5" height="7.5" fill="#f41021"/>
<rect x="410" y="1129" width="7.5" height="7.5" fill="#f31020"/>
<rect x="417" y="1129" width="7.5" height="7.5" fill="#f2101f"/>
<rect x="424" y="1129" width="7.5" height="7.5" fill="#f2101e"/>
<rect x="431" y="1129" width="7.5" height="7.5" fill="#f2101d"/>
<rect x="438" y="1129" width="7.5" height="7.5" fill="#f2101d"/>
<rect x="151" y="1136" width="7.5" height="7.5" fill="#78bdf3"/>
<rect x="158" y="1136" width="7.5" height="7.5" fill="#76b8f3"/>
<rect x="165" y="1136" width="7.5" height="7.5" fill="#73b4f3"/>
<rect x="172" y="1136" width="7.5" height="7.5" fill="#6faef2"/>
<rect x="179" y="1136" width="7.5" height="7.5" fill="#6ba8f2"/>
<rect x="186" y="1136" width="7.5" height="7.5" fill="#67a1f2"/>
<rect x="193" y="1136" width="7.5" height="7.5" fill="#6097f2"/>
<rect x="200" y="1136" width="7.5" height="7.5" fill="#598cf1"/>
<rect x="207" y="1136" width="7.5" height="7.5" fill="#507ef1"/>
<rect x="214" y="1136" width="7.5" height="7.5" fill="#4e75f1"/>
<rect x="221" y="1136" width="7.5" height="7.5" fill="#5975f3"/>
<rect x="228" y="1136" width="7.5" height="7.5" fill="#6c7df4"/>
<rect x="235" y="1136" width="7.5" height="7.5" fill="#848cf6"/>
<rect x="242" y="1136" width="7.5" height="7.5" fill="#9c9df8"/>
<rect x="249" y="1136" width="7.5" height="7.5" fill="#b3b0f8"/>
<rect x="256" y="1136" width="7.5" height="7.5" fill="#c6bff8"/>
<rect x="263" y="1136" width="7.5" height="7.5" fill="#d7c9f8"/>
<rect x="270" y="1136" width="7.5" height="7.5" fill="#e2cdf6"/>
<rect x="277" y="1136" width="7.5" height="7.5" fill="#e8c9f3"/>
<rect x="284" y="1136" width="7.5" height="7.5" fill="#eebeef"/>
<rect x="291" y="1136" width="7.5" height="7.5" fill="#f2ace4"/>
<rect x="298" y="1136" width="7.5" height="7.5" fill="#f792d4"/>
<rect x="305" y="1136" width="7.5" height="7.5" fill="#f973bb"/>
<rect x="312" y="1136" width="7.5" height="7.5" fill="#fc519e"/>
<rect x="319" y="1136" width="7.5" height="7.5" fill="#fe327f"/>
<rect x="326" y="1136" width="7.5" height="7.5" fill="#ff1a64"/>
<rect x="333" y="1136" width="7.5" height="7.5" fill="#ff1255"/>
<rect x="340" y="1136" width="7.5" height="7.5" fill="#fe124c"/>
<rect x="347" y="1136" width="7.5" height="7.5" fill="#fe1244"/>
<rect x="354" y="1136" width="7.5" height="7.5" fill="#fc113d"/>
<rect x="361" y="1136" width="7.5" height="7.5" fill="#fb1138"/>
<rect x="368" y="1136" width="7.5" height="7.5" fill="#fa1133"/>
<rect x="375" y="1136" width="7.5" height="7.5" fill="#f9102e"/>
<rect x="382" y="1136" width="7.5" height="7.5" fill="#f8102a"/>
<rect x="389" y="1136" width="7.5" height="7.5" fill="#f71028"/>
<rect x="396" y="1136" width="7.5" height="7.5" fill="#f61026"/>
<rect x="403" y="1136" width="7.5" height="7.5" fill="#f51025"/>
<rect x="410" y="1136" width="7.5" height="7.5" fill="#f51023"/>
<rect x="417" y="1136" width="7.5" height="7.5" fill="#f41022"/>
<rect x="158" y="1143" width="7.5" height="7.5" fill="#6faef2"/>
<rect x="165" y="1143" width="7.5" height="7.5" fill="#6ba8f2"/>
<rect x="172" y="1143" width="7.5" height="7.5" fill="#67a2f2"/>
<rect x="179" y="1143" width="7.5" height="7.5" fill="#629af2"/>
<rect x="186" y="1143" width="7.5" height="7.5" fill="#5c90f2"/>
<rect x="193" y="1143" width="7.5" height="7.5" fill="#5485f1"/>
<rect x="200" y="1143" width="7.5" height="7.5" fill="#4d79f1"/>
<rect x="207" y="1143" width="7.5" height="7.5" fill="#456bf1"/>
<rect x="214" y="1143" width="7.5" height="7.5" fill="#3c5bf1"/>
<rect x="221" y="1143" width="7.5" height="7.5" fill="#3c51f1"/>
<rect x="228" y="1143" width="7.5" height="7.5" fill="#4551f1"/>
<rect x="235" y="1143" width="7.5" height="7.5" fill="#5356f2"/>
<rect x="242" y="1143" width="7.5" height="7.5" fill="#6562f2"/>
<rect x="249" y="1143" width="7.5" height="7.5" fill="#776ef1"/>
<rect x="256" y="1143" width="7.5" height="7.5" fill="#8f79ef"/>
<rect x="263" y="1143" width="7.5" height="7.5" fill="#a57fec"/>
<rect x="270" y="1143" width="7.5" height="7.5" fill="#b87fe7"/>
<rect x="277" y="1143" width="7.5" height="7.5" fill="#c878e1"/>
<rect x="284" y="1143" width="7.5" height="7.5" fill="#d76ada"/>
<rect x="291" y="1143" width="7.5" height="7.5" fill="#e258cb"/>
<rect x="298" y="1143" width="7.5" height="7.5" fill="#ee42b9"/>
<rect x="305" y="1143" width="7.5" height="7.5" fill="#f32ba0"/>
<rect x="312" y="1143" width="7.5" height="7.5" fill="#f91986"/>
<rect x="319" y="1143" width="7.5" height="7.5" fill="#fc1174"/>
<rect x="326" y="1143" width="7.5" height="7.5" fill="#fe1268"/>
<rect x="333" y="1143" width="7.5" height="7.5" fill="#ff125d"/>
<rect x="340" y="1143" width="7.5" height="7.5" fill="#ff1255"/>
<rect x="347" y="1143" width="7.5" height="7.5" fill="#fe124d"/>
<rect x="354" y="1143" width="7.5" height="7.5" fill="#fe1246"/>
<rect x="361" y="1143" width="7.5" height="7.5" fill="#fd1240"/>
<rect x="368" y="1143" width="7.5" height="7.5" fill="#fc113b"/>
<rect x="375" y="1143" width="7.5" height="7.5" fill="#fb1136"/>
<rect x="382" y="1143" width="7.5" height="7.5" fill="#fa1132"/>
<rect x="389" y="1143" width="7.5" height="7.5" fill="#f9102e"/>
<rect x="396" y="1143" width="7.5" height="7.5" fill="#f8102a"/>
<rect x="158" y="1150" width="7.5" height="7.5" fill="#68a3f2"/>
<rect x="165" y="1150" width="7.5" height="7.5" fill="#639cf2"/>
<rect x="172" y="1150" width="7.5" height="7.5" fill="#5e93f2"/>
<rect x="179" y="1150" width="7.5" height="7.5" fill="#588af1"/>
<rect x="186" y="1150" width="7.5" height="7.5" fill="#5180f1"/>
<rect x="193" y="1150" width="7.5" height="7.5" fill="#4a74f1"/>
<rect x="200" y="1150" width="7.5" height="7.5" fill="#4367f1"/>
<rect x="207" y="1150" width="7.5" height="7.5" fill="#3b59f1"/>
<rect x="214" y="1150" width="7.5" height="7.5" fill="#3449f0"/>
<rect x="221" y="1150" width="7.5" height="7.5" fill="#2d3bf0"/>
<rect x="228" y="1150" width="7.5" height="7.5" fill="#292fef"/>
<rect x="235" y="1150" width="7.5" height="7.5" fill="#2c2aee"/>
<rect x="242" y="1150" width="7.5" height="7.5" fill="#372dec"/>
<rect x="249" y="1150" width="7.5" height="7.5" fill="#4631ea"/>
<rect x="256" y="1150" width="7.5" height="7.5" fill="#6136e5"/>
<rect x="263" y="1150" width="7.5" height="7.5" fill="#7b37df"/>
<rect x="270" y="1150" width="7.5" height="7.5" fill="#9535d8"/>
<rect x="277" y="1150" width="7.5" height="7.5" fill="#ac2fd1"/>
<rect x="284" y="1150" width="7.5" height="7.5" fill="#c325c9"/>
<rect x="291" y="1150" width="7.5" height="7.5" fill="#d41bbb"/>
<rect x="298" y="1150" width="7.5" height="7.5" fill="#e412ab"/>
<rect x="305" y="1150" width="7.5" height="7.5" fill="#ef109b"/>
<rect x="312" y="1150" width="7.5" height="7.5" fill="#f6108a"/>
<rect x="319" y="1150" width="7.5" height="7.5" fill="#fb107c"/>
<rect x="326" y="1150" width="7.5" height="7.5" fill="#fd1170"/>
<rect x="333" y="1150" width="7.5" height="7.5" fill="#fe1265"/>
<rect x="340" y="1150" width="7.5" height="7.5" fill="#ff125d"/>
<rect x="347" y="1150" width="7.5" height="7.5" fill="#ff1255"/>
<rect x="354" y="1150" width="7.5" height="7.5" fill="#fe124e"/>
<rect x="361" y="1150" width="7.5" height="7.5" fill="#fe1247"/>
<rect x="368" y="1150" width="7.5" height="7.5" fill="#fd1242"/>
<rect x="375" y="1150" width="7.5" height="7.5" fill="#fc113d"/>
<rect x="382" y="1150" width="7.5" height="7.5" fill="#fb1138"/>
<rect x="165" y="1157" width="7.5" height="7.5" fill="#5a8ef1"/>
<rect x="172" y="1157" width="7.5" height="7.5" fill="#5485f1"/>
<rect x="179" y="1157" width="7.5" height="7.5" fill="#4e7bf1"/>
<rect x="186" y="1157" width="7.5" height="7.5" fill="#4770f1"/>
<rect x="193" y="1157" width="7.5" height="7.5" fill="#4164f1"/>
<rect x="200" y="1157" width="7.5" height="7.5" fill="#3a57f1"/>
<rect x="207" y="1157" width="7.5" height="7.5" fill="#3349f0"/>
<rect x="214" y="1157" width="7.5" height="7.5" fill="#2d3cf0"/>
<rect x="221" y="1157" width="7.5" height="7.5" fill="#272fef"/>
<rect x="228" y="1157" width="7.5" height="7.5" fill="#2222ee"/>
<rect x="235" y="1157" width="7.5" height="7.5" fill="#231beb"/>
<rect x="242" y="1157" width="7.5" height="7.5" fill="#2414e9"/>
<rect x="249" y="1157" width="7.5" height="7.5" fill="#3612e4"/>
<rect x="256" y="1157" width="7.5" height="7.5" fill="#4e11de"/>
<rect x="263" y="1157" width="7.5" height="7.5" fill="#6911d7"/>
<rect x="270" y="1157" width="7.5" height="7.5" fill="#8610d0"/>
<rect x="277" y="1157" width="7.5" height="7.5" fill="#a210c9"/>
<rect x="284" y="1157" width="7.5" height="7.5" fill="#bd10c4"/>
<rect x="291" y="1157" width="7.5" height="7.5" fill="#d010b9"/>
<rect x="298" y="1157" width="7.5" height="7.5" fill="#e010ad"/>
<rect x="305" y="1157" width="7.5" height="7.5" fill="#ec10a0"/>
<rect x="312" y="1157" width="7.5" height="7.5" fill="#f31091"/>
<rect x="319" y="1157" width="7.5" height="7.5" fill="#f91083"/>
<rect x="326" y="1157" width="7.5" height="7.5" fill="#fb1177"/>
<rect x="333" y="1157" width="7.5" height="7.5" fill="#fd116d"/>
<rect x="340" y="1157" width="7.5" height="7.5" fill="#ff1264"/>
<rect x="347" y="1157" width="7.5" height="7.5" fill="#ff125c"/>
<rect x="354" y="1157" width="7.5" height="7.5" fill="#ff1255"/>
<rect x="361" y="1157" width="7.5" height="7.5" fill="#fe124e"/>
<rect x="165" y="1164" width="7.5" height="7.5" fill="#5180f1"/>
<rect x="172" y="1164" width="7.5" height="7.5" fill="#4c77f1"/>
<rect x="179" y="1164" width="7.5" height="7.5" fill="#466df1"/>
<rect x="186" y="1164" width="7.5" height="7.5" fill="#4061f1"/>
<rect x="193" y="1164" width="7.5" height="7.5" fill="#3955f1"/>
<rect x="200" y="1164" width="7.5" height="7.5" fill="#3348f0"/>
<rect x="207" y="1164" width="7.5" height="7.5" fill="#2e3df0"/>
<rect x="214" y="1164" width="7.5" height="7.5" fill="#2831ef"/>
<rect x="221" y="1164" width="7.5" height="7.5" fill="#2325ee"/>
<rect x="228" y="1164" width="7.5" height="7.5" fill="#231dec"/>
<rect x="235" y="1164" width="7.5" height="7.5" fill="#2417ea"/>
<rect x="242" y="1164" width="7.5" height="7.5" fill="#2a12e7"/>
<rect x="249" y="1164" width="7.5" height="7.5" fill="#3f11e1"/>
<rect x="256" y="1164" width="7.5" height="7.5" fill="#5510dc"/>
<rect x="263" y="1164" width="7.5" height="7.5" fill="#6f10d5"/>
<rect x="270" y="1164" width="7.5" height="7.5" fill="#8a10ce"/>
<rect x="277" y="1164" width="7.5" height="7.5" fill="#a310c9"/>
<rect x="284" y="1164" width="7.5" height="7.5" fill="#bc10c4"/>
<rect x="291" y="1164" width="7.5" height="7.5" fill="#ce10bb"/>
<rect x="298" y="1164" width="7.5" height="7.5" fill="#dd10b0"/>
<rect x="305" y="1164" width="7.5" height="7.5" fill="#ea10a5"/>
<rect x="312" y="1164" width="7.5" height="7.5" fill="#f01097"/>
<rect x="319" y="1164" width="7.5" height="7.5" fill="#f6108a"/>
<rect x="326" y="1164" width="7.5" height="7.5" fill="#fa107d"/>
<rect x="333" y="1164" width="7.5" height="7.5" fill="#fc1174"/>
<rect x="340" y="1164" width="7.5" height="7.5" fill="#fe116b"/>
<rect x="172" y="1171" width="7.5" height="7.5" fill="#446af1"/>
<rect x="179" y="1171" width="7.5" height="7.5" fill="#3e5ff1"/>
<rect x="186" y="1171" width="7.5" height="7.5" fill="#3954f1"/>
<rect x="193" y="1171" width="7.5" height="7.5" fill="#3348f0"/>
<rect x="200" y="1171" width="7.5" height="7.5" fill="#2e3df0"/>
<rect x="207" y="1171" width="7.5" height="7.5" fill="#2933ef"/>
<rect x="214" y="1171" width="7.5" height="7.5" fill="#2427ee"/>
<rect x="221" y="1171" width="7.5" height="7.5" fill="#221fed"/>
<rect x="228" y="1171" width="7.5" height="7.5" fill="#2319eb"/>
<rect x="235" y="1171" width="7.5" height="7.5" fill="#2414e9"/>
<rect x="242" y="1171" width="7.5" height="7.5" fill="#3312e4"/>
<rect x="249" y="1171" width="7.5" height="7.5" fill="#4711df"/>
<rect x="256" y="1171" width="7.5" height="7.5" fill="#5d10da"/>
<rect x="263" y="1171" width="7.5" height="7.5" fill="#7510d4"/>
<rect x="270" y="1171" width="7.5" height="7.5" fill="#8e10ce"/>
<rect x="277" y="1171" width="7.5" height="7.5" fill="#a410c9"/>
<rect x="284" y="1171" width="7.5" height="7.5" fill="#bb10c4"/>
<rect x="291" y="1171" width="7.5" height="7.5" fill="#cc10bc"/>
<rect x="298" y="1171" width="7.5" height="7.5" fill="#da10b2"/>
<rect x="305" y="1171" width="7.5" height="7.5" fill="#e710a8"/>
<rect x="312" y="1171" width="7.5" height="7.5" fill="#ee109c"/>
<rect x="319" y="1171" width="7.5" height="7.5" fill="#f3108f"/>
<rect x="172" y="1178" width="7.5" height="7.5" fill="#3e5df1"/>
<rect x="179" y="1178" width="7.5" height="7.5" fill="#3853f1"/>
<rect x="186" y="1178" width="7.5" height="7.5" fill="#3348f0"/>
<rect x="193" y="1178" width="7.5" height="7.5" fill="#2e3ef0"/>
<rect x="200" y="1178" width="7.5" height="7.5" fill="#2a34ef"/>
<rect x="207" y="1178" width="7.5" height="7.5" fill="#252aef"/>
<rect x="214" y="1178" width="7.5" height="7.5" fill="#2221ee"/>
<rect x="221" y="1178" width="7.5" height="7.5" fill="#231bec"/>
<rect x="228" y="1178" width="7.5" height="7.5" fill="#2416ea"/>
<rect x="235" y="1178" width="7.5" height="7.5" fill="#2a12e7"/>
<rect x="242" y="1178" width="7.5" height="7.5" fill="#3c11e2"/>
<rect x="249" y="1178" width="7.5" height="7.5" fill="#4e10de"/>
<rect x="256" y="1178" width="7.5" height="7.5" fill="#6310d8"/>
<rect x="263" y="1178" width="7.5" height="7.5" fill="#7a10d3"/>
<rect x="270" y="1178" width="7.5" height="7.5" fill="#9010cd"/>
<rect x="277" y="1178" width="7.5" height="7.5" fill="#a510c9"/>
<rect x="284" y="1178" width="7.5" height="7.5" fill="#ba10c4"/>
<rect x="291" y="1178" width="7.5" height="7.5" fill="#cb10bd"/>
<rect x="298" y="1178" width="7.5" height="7.5" fill="#d710b4"/>
<rect x="305" y="1178" width="7.5" height="7.5" fill="#e410ab"/>
<rect x="179" y="1185" width="7.5" height="7.5" fill="#3348f0"/>
<rect x="186" y="1185" width="7.5" height="7.5" fill="#2e3ef0"/>
<rect x="193" y="1185" width="7.5" height="7.5" fill="#2a35ef"/>
<rect x="200" y="1185" width="7.5" height="7.5" fill="#262cef"/>
<rect x="207" y="1185" width="7.5" height="7.5" fill="#2222ee"/>
<rect x="214" y="1185" width="7.5" height="7.5" fill="#231dec"/>
<rect x="221" y="1185" width="7.5" height="7.5" fill="#2318ea"/>
<rect x="228" y="1185" width="7.5" height="7.5" fill="#2413e8"/>
<rect x="235" y="1185" width="7.5" height="7.5" fill="#3212e5"/>
<rect x="242" y="1185" width="7.5" height="7.5" fill="#4311e0"/>
<rect x="249" y="1185" width="7.5" height="7.5" fill="#5410dc"/>
<rect x="256" y="1185" width="7.5" height="7.5" fill="#6910d7"/>
<rect x="263" y="1185" width="7.5" height="7.5" fill="#7e10d2"/>
<rect x="270" y="1185" width="7.5" height="7.5" fill="#9310cd"/>
<rect x="277" y="1185" width="7.5" height="7.5" fill="#a610c8"/>
<rect x="284" y="1185" width="7.5" height="7.5" fill="#b910c4"/>
<rect x="179" y="1192" width="7.5" height="7.5" fill="#2f3ff0"/>
<rect x="186" y="1192" width="7.5" height="7.5" fill="#2b36ef"/>
<rect x="193" y="1192" width="7.5" height="7.5" fill="#272def"/>
<rect x="200" y="1192" width="7.5" height="7.5" fill="#2324ee"/>
<rect x="207" y="1192" width="7.5" height="7.5" fill="#221fed"/>
<rect x="214" y="1192" width="7.5" height="7.5" fill="#231aeb"/>
<rect x="221" y="1192" width="7.5" height="7.5" fill="#2416e9"/>
<rect x="228" y="1192" width="7.5" height="7.5" fill="#2a12e7"/>
<rect x="235" y="1192" width="7.5" height="7.5" fill="#3911e3"/>
<rect x="242" y="1192" width="7.5" height="7.5" fill="#4911df"/>
<rect x="249" y="1192" width="7.5" height="7.5" fill="#5a10db"/>
<rect x="256" y="1192" width="7.5" height="7.5" fill="#6e10d6"/>
<rect x="263" y="1192" width="7.5" height="7.5" fill="#8210d1"/>
<rect x="186" y="1199" width="7.5" height="7.5" fill="#272fef"/>
<rect x="193" y="1199" width="7.5" height="7.5" fill="#2426ee"/>
<rect x="200" y="1199" width="7.5" height="7.5" fill="#2220ed"/>
<rect x="207" y="1199" width="7.5" height="7.5" fill="#231cec"/>
<rect x="214" y="1199" width="7.5" height="7.5" fill="#2417ea"/>
<rect x="221" y="1199" width="7.5" height="7.5" fill="#2413e8"/>
<rect x="228" y="1199" width="7.5" height="7.5" fill="#3112e5"/>
<rect x="235" y="1199" width="7.5" height="7.5" fill="#3f11e1"/>
<rect x="242" y="1199" width="7.5" height="7.5" fill="#4e10dd"/>
<rect x="200" y="1206" width="7.5" height="7.5" fill="#231dec"/>
<rect x="207" y="1206" width="7.5" height="7.5" fill="#2319eb"/>
<rect x="214" y="1206" width="7.5" height="7.5" fill="#2415e9"/>
<rect x="221" y="1206" width="7.5" height="7.5" fill="#2a12e7"/>
</g></g>
<g clip-path="url(#hc)"><path d="M159.0,923.9 L162.2,926.6 L165.3,929.3 L168.4,932.1 L171.4,934.9 L174.4,937.8 L177.3,940.8 L180.1,943.8 L183.0,946.8 L185.7,949.8 L188.5,952.9 L191.2,956.0 L193.9,959.2 L196.6,962.3 L199.2,965.5 L201.8,968.7 L204.5,971.9 L207.1,975.1 L209.7,978.3 L212.3,981.5 L214.9,984.7 L217.5,988.0 L220.1,991.2 L222.6,994.5 L225.1,997.8 L227.6,1001.1 L229.9,1004.5 L232.2,1008.0 L234.5,1011.4 L236.7,1015.0 L238.8,1018.5 L241.0,1022.0 L243.1,1025.6 L245.2,1029.2 L247.3,1032.7 L249.3,1036.3 L251.4,1039.9 L253.4,1043.5 L255.3,1047.2 L257.3,1050.8 L259.1,1054.5 L260.9,1058.3 L262.6,1062.0 L264.2,1065.8 L265.8,1069.7 M138.5,1022.7 L142.4,1024.3 L146.4,1025.8 L150.4,1027.3 L154.4,1028.8 L158.4,1030.3 L162.4,1031.8 L166.4,1033.4 L170.3,1034.9 L174.3,1036.5 L178.3,1038.1 L182.2,1039.7 L186.1,1041.4 L190.0,1043.1 L193.9,1045.0 L197.7,1046.8 L201.5,1048.8 L205.2,1050.9 L208.9,1053.0 L212.6,1055.1 L216.2,1057.4 L219.8,1059.6 L223.5,1061.9 L227.1,1064.1 L230.7,1066.4 L234.4,1068.6 L238.0,1070.8 L241.7,1072.9 L245.4,1075.0 L249.2,1077.0 L253.0,1078.9 M292.0,984.0 L291.9,988.3 L291.8,992.6 L291.8,996.9 L291.7,1001.2 L291.6,1005.6 L291.5,1009.9 L291.3,1014.2 L291.1,1018.5 L290.9,1022.9 L290.6,1027.2 L290.2,1031.5 L289.8,1035.8 L289.2,1040.1 L288.6,1044.3 L287.9,1048.6 L287.0,1052.8 L286.0,1057.0 L284.9,1061.2 M331.4,1015.5 L318.4,1037.1 L306.1,1053.4 M345.3,1025.8 L333.9,1037.1 L321.2,1049.8 M363.6,1039.9 L342.4,1051.2 L335.4,1055.5 M373.5,1049.8 L348.1,1055.5 M160.4,1119.9 L164.4,1118.5 L168.4,1117.1 L172.4,1115.7 L176.5,1114.4 L180.5,1113.1 L184.6,1111.9 L188.6,1110.7 L192.7,1109.6 L196.8,1108.4 L200.9,1107.4 L205.0,1106.3 L209.1,1105.3 L213.2,1104.3 L217.3,1103.4 L221.5,1102.5 L225.7,1101.7 L229.8,1100.9 L234.0,1100.1 M172.4,1162.3 L175.8,1159.7 L179.2,1157.1 L182.6,1154.5 L186.0,1152.0 L189.5,1149.5 L193.0,1147.1 L196.5,1144.6 L200.0,1142.3 L203.6,1139.9 L207.1,1137.6 L210.7,1135.2 L214.3,1133.0 L218.0,1130.7 L221.6,1128.5 L225.3,1126.3 L229.0,1124.2 M234.7,1136.2 L231.5,1139.2 L228.5,1142.3 L225.5,1145.5 L222.6,1148.7 L219.9,1152.0 L217.2,1155.4 L214.7,1158.8 L212.2,1162.3 L209.9,1165.8 L207.6,1169.4 L205.5,1173.1 L203.4,1176.9 L201.5,1180.7 L199.6,1184.6 L197.9,1188.5 M240.3,1137.6 L236.9,1140.8 L233.7,1144.1 L230.7,1147.5 L227.8,1150.9 L225.2,1154.5 L222.8,1158.2 L220.5,1162.0 L218.4,1165.8 L216.5,1169.8 L214.8,1173.9 L213.3,1178.0 L212.0,1182.3 L210.9,1186.6 L210.0,1191.1 L209.2,1195.6 M247.4,1137.6 L245.6,1141.8 L243.9,1146.0 L242.5,1150.2 L241.4,1154.5 L240.4,1158.9 L239.7,1163.3 L239.1,1167.7 L238.8,1172.2 L238.8,1176.8 L238.9,1181.4 M234.0,1123.5 L237.0,1120.6 L240.1,1117.9 L243.3,1115.2 L246.4,1112.6 L249.7,1110.1 L252.9,1107.6 L256.3,1105.2 L259.6,1102.9 L263.0,1100.6 L266.4,1098.4 L269.8,1096.2 L273.3,1094.0 L276.8,1091.9 L280.3,1089.8 L283.8,1087.8 L287.3,1085.7 L290.9,1083.7 L294.4,1081.6 L298.0,1079.6 L301.6,1077.6 L305.1,1075.5 L308.7,1073.5 L312.3,1071.5 L315.9,1069.5 L319.6,1067.7 L323.3,1066.0 L327.1,1064.4 L330.9,1063.2 L334.9,1062.1 L338.9,1061.2 L342.9,1060.4 L347.0,1059.8 L351.0,1059.2 L355.1,1058.7 L359.2,1058.4 L363.3,1058.4 L367.4,1058.6 L371.4,1059.1 L375.5,1059.7 L379.5,1060.6 L383.5,1061.6 L387.5,1062.8 L391.4,1064.0 L395.2,1065.4 L399.0,1066.9 M236.5,1119.5 L239.8,1116.5 L243.1,1113.6 L246.5,1110.8 L249.9,1108.0 L253.3,1105.2 L256.8,1102.5 L260.3,1099.9 L263.9,1097.3 L267.5,1094.8 L271.2,1092.4 L274.8,1090.0 L278.6,1087.7 L282.3,1085.4 L286.1,1083.2 L290.0,1081.0 M277.1,1113.6 L278.0,1118.0 L278.9,1122.4 L279.7,1126.8 L280.3,1131.2 L280.9,1135.6 L281.4,1140.1 L281.8,1144.5 L282.1,1148.9 L282.3,1153.4 L282.4,1157.9 L282.5,1162.3 L282.4,1166.8 L282.2,1171.3 L282.0,1175.8 M277.1,1113.6 L281.4,1112.7 L285.6,1111.5 L289.6,1110.1 L293.5,1108.3 L297.3,1106.4 L301.0,1104.2 L304.5,1101.9 L307.8,1099.3 L311.1,1096.5 L314.2,1093.6 L317.2,1090.5 L320.0,1087.3 L322.8,1084.0 L325.6,1080.9 L328.6,1078.0 L331.8,1075.5 L335.4,1073.6 L339.5,1072.3 L344.2,1071.9 L349.5,1072.5 M319.8,1090.2 L373.5,1089.5 M307.1,1100.8 L352.3,1112.1 M367.9,1070.4 L371.9,1071.6 L376.0,1072.9 L380.0,1074.2 L384.0,1075.6 L388.0,1076.9 L391.9,1078.4 L395.9,1079.8 L399.8,1081.3 L403.8,1082.8 L407.7,1084.4 L411.6,1085.9 L415.6,1087.5 L419.5,1089.1 L423.4,1090.7 L427.3,1092.3 L431.2,1093.9 L435.1,1095.5 L439.0,1097.1 L442.9,1098.7 M362.2,1107.9 L366.6,1109.1 L370.9,1110.4 L375.2,1111.8 L379.5,1113.2 L383.8,1114.6 L388.0,1116.1 L392.3,1117.7 L396.5,1119.3 L400.7,1121.0 L404.9,1122.7 L409.1,1124.5 L413.2,1126.3 M311.3,1134.8 L314.0,1138.4 L316.7,1141.9 L319.4,1145.4 L322.3,1148.8 L325.2,1152.2 L328.1,1155.5 L331.1,1158.8 M349.5,1064.0 L354.0,1062.7 L358.5,1061.7 L363.0,1060.9 L367.6,1060.3 L372.1,1060.0 L376.7,1059.9 L381.2,1060.1 L385.8,1060.5 L390.4,1061.1 L395.0,1062.0 M230.4,1119.2 L230.2,1114.5 L230.7,1109.8 L231.8,1105.3 L233.5,1101.0 L235.8,1097.0 L238.4,1093.2 L241.3,1089.7 L244.5,1086.3 L248.0,1083.2 L251.5,1080.1 L255.1,1077.2 L258.8,1074.4 L262.5,1071.7 L266.4,1069.3 L270.5,1067.2 L274.7,1065.3 L278.9,1063.5 L283.2,1061.8 L287.5,1060.2 L291.8,1058.5 L296.1,1056.8 L300.5,1055.2 L304.8,1053.8 L309.2,1052.5 L313.7,1051.4 L318.2,1050.6 L322.8,1050.0 L327.4,1049.8 L332.0,1050.1 L336.6,1051.0 L341.0,1052.6 L344.8,1055.3 L347.6,1059.0 L349.3,1063.4 L349.5,1068.0 L348.4,1072.5 L346.6,1076.8 L344.4,1080.9 L341.9,1084.8 L339.2,1088.5 L336.3,1092.0 L333.3,1095.5 L330.2,1098.9 L326.9,1102.1 L323.6,1105.3 L320.2,1108.4 L316.7,1111.4 L313.0,1114.2 L309.3,1116.9 L305.4,1119.4 L301.4,1121.7 L297.4,1123.9 L293.3,1126.0 L289.1,1128.0 L284.9,1129.9 L280.6,1131.7 L276.3,1133.3 L272.0,1134.6 L267.5,1135.8 L263.0,1136.6 L258.4,1137.0 L253.8,1137.1 L249.0,1136.8 L244.3,1135.9 L240.0,1134.3 L236.2,1131.8 L233.4,1128.2 L231.5,1123.9 L230.4,1119.2Z M345.0,1055.5 L349.1,1056.1 L353.1,1057.4 L356.8,1059.3 L360.2,1061.6 L363.3,1064.4 L366.0,1067.5 L368.3,1071.0 L370.0,1074.7 L371.3,1078.6 L372.1,1082.7 L372.5,1086.9 L372.2,1091.1 L371.2,1095.1 L369.6,1098.8 L367.3,1102.3 L364.6,1105.4 L361.7,1108.4 L358.6,1111.3 L355.6,1114.0 L352.4,1116.6 L349.1,1119.1 L345.6,1121.3 L342.0,1123.3 L338.3,1125.1 L334.5,1126.8 L330.7,1128.3 L326.8,1129.6 L322.8,1130.8 L318.9,1131.9 L314.9,1133.0 L310.9,1133.9 L306.9,1134.8 L302.8,1135.7 L298.8,1136.6 L294.7,1137.4 L290.7,1138.0 L286.6,1138.6 L282.5,1139.0 L278.4,1139.2 L274.3,1139.1 L270.2,1138.9 L266.1,1138.3 L262.0,1137.5" fill="none" stroke="#14240f" stroke-width="1.0" stroke-opacity="0.85"/></g>
<path d="M296.9,1074.1H314.9M305.9,1063.1V1085.1" stroke="#111" stroke-width="1.15" fill="none"/>
<g fill="#111"><circle cx="271.2" cy="1093.5" r="1.2"/><circle cx="283.5" cy="1088" r="0.9"/><circle cx="289.5" cy="1082.5" r="0.8"/><circle cx="346.5" cy="1059.5" r="0.9"/></g>
<text x="202.8" y="916.2" font-family="'Liberation Serif',serif" font-size="10.6" font-weight="700" fill="#c3c9c5" textLength="234.5" lengthAdjust="spacingAndGlyphs">CIE 1931XYZ CHROMATICITY DIAGRAM</text>
<g font-family="'Liberation Sans',sans-serif" font-weight="700"><text x="170.5" y="915.3" fill="#e4e8e4" font-size="4.2">520</text><text x="246.5" y="945" fill="#e4e8e4" font-size="4.2">540</text><text x="307" y="990.8" fill="#e4e8e4" font-size="4.2">560</text><text x="368.5" y="1036.3" fill="#e4e8e4" font-size="4.2">580</text><text x="420" y="1075.2" fill="#e4e8e4" font-size="4.2">600</text><text x="447" y="1098" fill="#e4e8e4" font-size="4.2">620</text><text x="469" y="1110.8" fill="#e4e8e4" font-size="4.2">700</text><text x="169" y="1163.5" fill="#e4e8e4" font-size="4.2">480</text><text x="239" y="994" fill="#10200c" fill-opacity="0.8" font-size="5.1">Yellowish</text><text x="239" y="998.9" fill="#10200c" fill-opacity="0.8" font-size="5.1">Green</text><text x="179" y="1015.8" fill="#10200c" fill-opacity="0.8" font-size="5.1">Green</text><text x="297" y="1020.5" fill="#10200c" fill-opacity="0.8" font-size="5.1">Yellow</text><text x="297" y="1025.4" fill="#10200c" fill-opacity="0.8" font-size="5.1">Green</text><text x="318.5" y="1031" fill="#10200c" fill-opacity="0.8" font-size="5.1">Greenish</text><text x="318.5" y="1035.9" fill="#10200c" fill-opacity="0.8" font-size="5.1">Yellow</text><text x="333.5" y="1043.8" fill="#10200c" fill-opacity="0.8" font-size="5.1">Yellow</text><text x="350" y="1050.5" fill="#10200c" fill-opacity="0.8" font-size="5.1">Yellowish</text><text x="350" y="1055.2" fill="#10200c" fill-opacity="0.8" font-size="5.1">Orange</text><text x="354" y="1067.5" fill="#10200c" fill-opacity="0.8" font-size="5.1">Orange</text><text x="178" y="1073" fill="#10200c" fill-opacity="0.8" font-size="5.1">Bluish</text><text x="178" y="1077.9" fill="#10200c" fill-opacity="0.8" font-size="5.1">Green</text><text x="186.6" y="1124.6" fill="#10200c" fill-opacity="0.8" font-size="5.1">Greenish</text><text x="189" y="1128.6" fill="#10200c" fill-opacity="0.8" font-size="5.1">Blue</text><text x="201" y="1153" fill="#10200c" fill-opacity="0.8" font-size="5.1">Blue</text><text x="206" y="1177" fill="#10200c" fill-opacity="0.8" font-size="5.1">Purplish</text><text x="206" y="1181.9" fill="#10200c" fill-opacity="0.8" font-size="5.1">Blue</text><text x="254.5" y="1154.5" fill="#10200c" fill-opacity="0.8" font-size="5.1">Purple</text><text x="295.5" y="1119" fill="#10200c" fill-opacity="0.8" font-size="5.1">Purplish</text><text x="295.5" y="1123.9" fill="#10200c" fill-opacity="0.8" font-size="5.1">Pink</text><text x="292.7" y="1150" fill="#10200c" fill-opacity="0.8" font-size="5.1">Reddish</text><text x="292.7" y="1154.9" fill="#10200c" fill-opacity="0.8" font-size="5.1">Purple</text><text x="333.2" y="1082.3" fill="#10200c" fill-opacity="0.8" font-size="5.1">Yellowish</text><text x="333.2" y="1087.2" fill="#10200c" fill-opacity="0.8" font-size="5.1">Pink</text><text x="337.5" y="1101.4" fill="#10200c" fill-opacity="0.8" font-size="5.1">Pink</text><text x="375.7" y="1082.3" fill="#10200c" fill-opacity="0.8" font-size="5.1">Reddish</text><text x="375.7" y="1087.2" fill="#10200c" fill-opacity="0.8" font-size="5.1">Orange</text><text x="381" y="1105.7" fill="#10200c" fill-opacity="0.8" font-size="5.1">Red</text><text x="339.6" y="1131.8" fill="#10200c" fill-opacity="0.8" font-size="5.1">Purplish</text><text x="339.6" y="1136.7" fill="#10200c" fill-opacity="0.8" font-size="5.1">Red</text></g>
<g font-family="'Liberation Sans',sans-serif" font-weight="700" font-size="3.6" fill="#cfd6d2" text-anchor="end"><text x="444" y="970.5">Source A x=0.4476</text><text x="444" y="975.2">y=0.4074</text><text x="444" y="979.9">Source B x=0.3484</text><text x="444" y="984.6">y=0.3516</text><text x="444" y="989.3">Source C x=0.3101</text><text x="444" y="994">y=0.3162</text><text x="444" y="1003.5">Source D65 x=0.3127</text><text x="444" y="1008.2">y=0.3290</text><text x="444" y="1012.9">Source E x=0.3333</text><text x="444" y="1017.6">y=0.3333</text></g>
</svg>
<svg width="790" height="376" viewBox="510 852 790 376" style="left:510px;top:852px">
<defs><linearGradient id="sg" gradientUnits="userSpaceOnUse" x1="648.2" y1="0" x2="1229.8" y2="0"><stop offset="0.0000" stop-color="#0a0a50"/><stop offset="0.0216" stop-color="#0c0c80"/><stop offset="0.0486" stop-color="#0e0ec0"/><stop offset="0.0811" stop-color="#0f10ee"/><stop offset="0.1216" stop-color="#1018f5"/><stop offset="0.1378" stop-color="#1038f5"/><stop offset="0.1581" stop-color="#1078f5"/><stop offset="0.1770" stop-color="#10b8f8"/><stop offset="0.1946" stop-color="#08f0ff"/><stop offset="0.2027" stop-color="#00ffff"/><stop offset="0.2162" stop-color="#05ffd0"/><stop offset="0.2378" stop-color="#10f890"/><stop offset="0.2595" stop-color="#18f850"/><stop offset="0.2811" stop-color="#14f820"/><stop offset="0.2946" stop-color="#10f810"/><stop offset="0.3149" stop-color="#38fb10"/><stop offset="0.3514" stop-color="#80ff10"/><stop offset="0.3838" stop-color="#b8ff10"/><stop offset="0.4108" stop-color="#e6ff14"/><stop offset="0.4324" stop-color="#ffff18"/><stop offset="0.4486" stop-color="#ffe014"/><stop offset="0.4676" stop-color="#ffb814"/><stop offset="0.4919" stop-color="#ff8414"/><stop offset="0.5189" stop-color="#ff5812"/><stop offset="0.5459" stop-color="#ff2c12"/><stop offset="0.5703" stop-color="#fd1212"/><stop offset="0.6081" stop-color="#ec1010"/><stop offset="0.6486" stop-color="#d41010"/><stop offset="0.6892" stop-color="#bc1010"/><stop offset="0.7297" stop-color="#a41010"/><stop offset="0.7703" stop-color="#8c1010"/><stop offset="0.8108" stop-color="#741010"/><stop offset="0.8514" stop-color="#5c1010"/><stop offset="0.8919" stop-color="#441010"/><stop offset="0.9324" stop-color="#300e0e"/><stop offset="0.9730" stop-color="#200c0c"/><stop offset="1.0000" stop-color="#140808"/></linearGradient><pattern id="sp" patternUnits="userSpaceOnUse" x="601.00" y="0" width="1.5720" height="40"><rect width="0.7" height="40" fill="#000" fill-opacity="0.07"/></pattern></defs>
<path d="M601.0,878.1V1174.3M679.6,878.1V1174.3M758.2,878.1V1174.3M836.8,878.1V1174.3M915.4,878.1V1174.3M994.0,878.1V1174.3M1072.6,878.1V1174.3M1151.2,878.1V1174.3M1229.8,878.1V1174.3M1261.2,878.1V1174.3M601.0,1174.3H1261.2M601.0,1124.9H1261.2M601.0,1075.6H1261.2M601.0,1026.2H1261.2M601.0,976.9H1261.2M601.0,927.5H1261.2M601.0,878.1H1261.2" stroke="#c6c6c6" stroke-width="1.1" fill="none"/>
<path d="M648.2,1174.3 L648.2,1174.3 L649.7,1174.1 L651.3,1173.5 L652.9,1172.8 L654.4,1172.0 L656.0,1171.1 L657.6,1170.1 L659.2,1169.0 L660.7,1167.8 L662.3,1166.4 L663.9,1164.9 L665.5,1163.2 L667.0,1161.2 L668.6,1159.0 L670.2,1156.5 L671.7,1153.8 L673.3,1150.7 L674.9,1147.2 L676.5,1142.7 L678.0,1137.6 L679.6,1132.3 L681.2,1127.5 L682.7,1122.8 L684.3,1117.8 L685.9,1112.4 L687.5,1106.3 L689.0,1099.5 L690.6,1092.1 L692.2,1083.9 L693.7,1074.6 L695.3,1063.3 L696.9,1050.1 L698.5,1036.0 L700.0,1022.1 L701.6,1007.6 L703.2,992.8 L704.8,978.3 L706.3,963.4 L707.9,948.9 L709.5,938.1 L711.0,930.9 L712.6,927.5 L714.2,930.0 L715.8,936.4 L717.3,946.0 L718.9,958.9 L720.5,972.9 L722.0,986.1 L723.6,999.5 L725.2,1012.6 L726.8,1026.0 L728.3,1037.7 L729.9,1045.1 L731.5,1050.9 L733.0,1055.8 L734.6,1060.5 L736.2,1065.5 L737.8,1070.6 L739.3,1075.6 L740.9,1080.6 L742.5,1085.7 L744.1,1090.4 L745.6,1094.3 L747.2,1097.8 L748.8,1100.9 L750.3,1103.4 L751.9,1105.1 L753.5,1106.4 L755.1,1106.9 L756.6,1106.5 L758.2,1105.5 L759.8,1104.2 L761.3,1102.8 L762.9,1101.0 L764.5,1098.8 L766.1,1096.3 L767.6,1093.6 L769.2,1090.9 L770.8,1087.9 L772.3,1084.7 L773.9,1081.3 L775.5,1077.9 L777.1,1074.6 L778.6,1071.1 L780.2,1067.6 L781.8,1064.1 L783.4,1060.7 L784.9,1057.6 L786.5,1054.6 L788.1,1051.7 L789.6,1048.9 L791.2,1046.2 L792.8,1043.7 L794.4,1041.3 L795.9,1039.0 L797.5,1036.8 L799.1,1034.6 L800.6,1032.6 L802.2,1030.7 L803.8,1029.0 L805.4,1027.4 L806.9,1025.9 L808.5,1024.5 L810.1,1023.2 L811.6,1021.9 L813.2,1020.8 L814.8,1019.6 L816.4,1018.6 L817.9,1017.5 L819.5,1016.6 L821.1,1015.6 L822.7,1014.7 L824.2,1013.8 L825.8,1012.9 L827.4,1012.0 L828.9,1011.1 L830.5,1010.3 L832.1,1009.5 L833.7,1008.6 L835.2,1007.8 L836.8,1006.9 L838.4,1005.9 L839.9,1004.9 L841.5,1003.9 L843.1,1002.9 L844.7,1001.9 L846.2,1000.9 L847.8,999.9 L849.4,998.9 L850.9,997.9 L852.5,996.9 L854.1,995.9 L855.7,995.0 L857.2,994.0 L858.8,993.1 L860.4,992.2 L862.0,991.4 L863.5,990.7 L865.1,990.0 L866.7,989.3 L868.2,988.6 L869.8,988.0 L871.4,987.4 L873.0,986.8 L874.5,986.3 L876.1,985.7 L877.7,985.1 L879.2,984.6 L880.8,984.0 L882.4,983.6 L884.0,983.2 L885.5,982.8 L887.1,982.6 L888.7,982.4 L890.2,982.2 L891.8,982.1 L893.4,982.0 L895.0,981.8 L896.5,981.7 L898.1,981.6 L899.7,981.4 L901.3,981.2 L902.8,980.9 L904.4,980.6 L906.0,980.3 L907.5,980.0 L909.1,979.6 L910.7,979.3 L912.3,979.0 L913.8,978.8 L915.4,978.6 L917.0,978.4 L918.5,978.3 L920.1,978.1 L921.7,977.9 L923.3,977.7 L924.8,977.4 L926.4,977.0 L928.0,976.7 L929.5,976.3 L931.1,975.9 L932.7,975.4 L934.3,974.9 L935.8,974.4 L937.4,973.7 L939.0,973.1 L940.6,972.4 L942.1,971.7 L943.7,971.0 L945.3,970.4 L946.8,969.9 L948.4,969.3 L950.0,968.8 L951.6,968.3 L953.1,967.7 L954.7,967.2 L956.3,966.7 L957.8,966.2 L959.4,965.7 L961.0,965.1 L962.6,964.5 L964.1,963.9 L965.7,963.4 L967.3,962.9 L968.8,962.5 L970.4,962.2 L972.0,961.9 L973.6,961.7 L975.1,961.4 L976.7,961.2 L978.3,961.1 L979.9,961.1 L981.4,961.1 L983.0,961.3 L984.6,961.5 L986.1,961.8 L987.7,962.2 L989.3,962.6 L990.9,963.2 L992.4,963.8 L994.0,964.6 L995.6,965.6 L997.1,966.6 L998.7,967.8 L1000.3,969.0 L1001.9,970.2 L1003.4,971.4 L1005.0,972.7 L1006.6,974.0 L1008.1,975.4 L1009.7,976.8 L1011.3,978.3 L1012.9,979.9 L1014.4,981.6 L1016.0,983.3 L1017.6,985.2 L1019.2,987.1 L1020.7,989.1 L1022.3,991.1 L1023.9,993.2 L1025.4,995.5 L1027.0,997.8 L1028.6,1000.2 L1030.2,1002.6 L1031.7,1005.0 L1033.3,1007.4 L1034.9,1009.9 L1036.4,1012.4 L1038.0,1015.0 L1039.6,1017.5 L1041.2,1020.0 L1042.7,1022.5 L1044.3,1025.0 L1045.9,1027.4 L1047.4,1029.8 L1049.0,1032.2 L1050.6,1034.5 L1052.2,1036.9 L1053.7,1039.2 L1055.3,1041.6 L1056.9,1044.0 L1058.5,1046.4 L1060.0,1048.8 L1061.6,1051.2 L1063.2,1053.6 L1064.7,1056.0 L1066.3,1058.4 L1067.9,1060.7 L1069.5,1062.9 L1071.0,1065.1 L1072.6,1067.2 L1074.2,1069.3 L1075.7,1071.4 L1077.3,1073.5 L1078.9,1075.6 L1080.5,1077.8 L1082.0,1080.0 L1083.6,1082.2 L1085.2,1084.4 L1086.7,1086.6 L1088.3,1088.8 L1089.9,1090.9 L1091.5,1093.0 L1093.0,1095.2 L1094.6,1097.3 L1096.2,1099.3 L1097.8,1101.4 L1099.3,1103.4 L1100.9,1105.3 L1102.5,1107.2 L1104.0,1109.0 L1105.6,1110.9 L1107.2,1112.6 L1108.8,1114.4 L1110.3,1116.0 L1111.9,1117.7 L1113.5,1119.3 L1115.0,1120.8 L1116.6,1122.3 L1118.2,1123.7 L1119.8,1125.1 L1121.3,1126.5 L1122.9,1127.8 L1124.5,1129.2 L1126.0,1130.5 L1127.6,1131.8 L1129.2,1133.1 L1130.8,1134.4 L1132.3,1135.6 L1133.9,1136.9 L1135.5,1138.1 L1137.1,1139.3 L1138.6,1140.5 L1140.2,1141.6 L1141.8,1142.8 L1143.3,1143.9 L1144.9,1145.0 L1146.5,1146.0 L1148.1,1147.1 L1149.6,1148.2 L1151.2,1149.2 L1152.8,1150.2 L1154.3,1151.3 L1155.9,1152.3 L1157.5,1153.3 L1159.1,1154.3 L1160.6,1155.2 L1162.2,1156.1 L1163.8,1156.9 L1165.3,1157.7 L1166.9,1158.5 L1168.5,1159.2 L1170.1,1160.0 L1171.6,1160.6 L1173.2,1161.3 L1174.8,1162.0 L1176.4,1162.6 L1177.9,1163.2 L1179.5,1163.8 L1181.1,1164.4 L1182.6,1164.9 L1184.2,1165.5 L1185.8,1166.0 L1187.4,1166.5 L1188.9,1167.0 L1190.5,1167.5 L1192.1,1167.9 L1193.6,1168.4 L1195.2,1168.8 L1196.8,1169.2 L1198.4,1169.6 L1199.9,1170.0 L1201.5,1170.4 L1203.1,1170.8 L1204.6,1171.2 L1206.2,1171.5 L1207.8,1171.9 L1209.4,1172.2 L1210.9,1172.5 L1212.5,1172.8 L1214.1,1173.1 L1215.7,1173.3 L1217.2,1173.6 L1218.8,1173.8 L1220.4,1174.0 L1221.9,1174.1 L1223.5,1174.3 L1223.5,1174.3 Z" fill="url(#sg)"/>
<path d="M648.2,1174.3 L648.2,1174.3 L649.7,1174.1 L651.3,1173.5 L652.9,1172.8 L654.4,1172.0 L656.0,1171.1 L657.6,1170.1 L659.2,1169.0 L660.7,1167.8 L662.3,1166.4 L663.9,1164.9 L665.5,1163.2 L667.0,1161.2 L668.6,1159.0 L670.2,1156.5 L671.7,1153.8 L673.3,1150.7 L674.9,1147.2 L676.5,1142.7 L678.0,1137.6 L679.6,1132.3 L681.2,1127.5 L682.7,1122.8 L684.3,1117.8 L685.9,1112.4 L687.5,1106.3 L689.0,1099.5 L690.6,1092.1 L692.2,1083.9 L693.7,1074.6 L695.3,1063.3 L696.9,1050.1 L698.5,1036.0 L700.0,1022.1 L701.6,1007.6 L703.2,992.8 L704.8,978.3 L706.3,963.4 L707.9,948.9 L709.5,938.1 L711.0,930.9 L712.6,927.5 L714.2,930.0 L715.8,936.4 L717.3,946.0 L718.9,958.9 L720.5,972.9 L722.0,986.1 L723.6,999.5 L725.2,1012.6 L726.8,1026.0 L728.3,1037.7 L729.9,1045.1 L731.5,1050.9 L733.0,1055.8 L734.6,1060.5 L736.2,1065.5 L737.8,1070.6 L739.3,1075.6 L740.9,1080.6 L742.5,1085.7 L744.1,1090.4 L745.6,1094.3 L747.2,1097.8 L748.8,1100.9 L750.3,1103.4 L751.9,1105.1 L753.5,1106.4 L755.1,1106.9 L756.6,1106.5 L758.2,1105.5 L759.8,1104.2 L761.3,1102.8 L762.9,1101.0 L764.5,1098.8 L766.1,1096.3 L767.6,1093.6 L769.2,1090.9 L770.8,1087.9 L772.3,1084.7 L773.9,1081.3 L775.5,1077.9 L777.1,1074.6 L778.6,1071.1 L780.2,1067.6 L781.8,1064.1 L783.4,1060.7 L784.9,1057.6 L786.5,1054.6 L788.1,1051.7 L789.6,1048.9 L791.2,1046.2 L792.8,1043.7 L794.4,1041.3 L795.9,1039.0 L797.5,1036.8 L799.1,1034.6 L800.6,1032.6 L802.2,1030.7 L803.8,1029.0 L805.4,1027.4 L806.9,1025.9 L808.5,1024.5 L810.1,1023.2 L811.6,1021.9 L813.2,1020.8 L814.8,1019.6 L816.4,1018.6 L817.9,1017.5 L819.5,1016.6 L821.1,1015.6 L822.7,1014.7 L824.2,1013.8 L825.8,1012.9 L827.4,1012.0 L828.9,1011.1 L830.5,1010.3 L832.1,1009.5 L833.7,1008.6 L835.2,1007.8 L836.8,1006.9 L838.4,1005.9 L839.9,1004.9 L841.5,1003.9 L843.1,1002.9 L844.7,1001.9 L846.2,1000.9 L847.8,999.9 L849.4,998.9 L850.9,997.9 L852.5,996.9 L854.1,995.9 L855.7,995.0 L857.2,994.0 L858.8,993.1 L860.4,992.2 L862.0,991.4 L863.5,990.7 L865.1,990.0 L866.7,989.3 L868.2,988.6 L869.8,988.0 L871.4,987.4 L873.0,986.8 L874.5,986.3 L876.1,985.7 L877.7,985.1 L879.2,984.6 L880.8,984.0 L882.4,983.6 L884.0,983.2 L885.5,982.8 L887.1,982.6 L888.7,982.4 L890.2,982.2 L891.8,982.1 L893.4,982.0 L895.0,981.8 L896.5,981.7 L898.1,981.6 L899.7,981.4 L901.3,981.2 L902.8,980.9 L904.4,980.6 L906.0,980.3 L907.5,980.0 L909.1,979.6 L910.7,979.3 L912.3,979.0 L913.8,978.8 L915.4,978.6 L917.0,978.4 L918.5,978.3 L920.1,978.1 L921.7,977.9 L923.3,977.7 L924.8,977.4 L926.4,977.0 L928.0,976.7 L929.5,976.3 L931.1,975.9 L932.7,975.4 L934.3,974.9 L935.8,974.4 L937.4,973.7 L939.0,973.1 L940.6,972.4 L942.1,971.7 L943.7,971.0 L945.3,970.4 L946.8,969.9 L948.4,969.3 L950.0,968.8 L951.6,968.3 L953.1,967.7 L954.7,967.2 L956.3,966.7 L957.8,966.2 L959.4,965.7 L961.0,965.1 L962.6,964.5 L964.1,963.9 L965.7,963.4 L967.3,962.9 L968.8,962.5 L970.4,962.2 L972.0,961.9 L973.6,961.7 L975.1,961.4 L976.7,961.2 L978.3,961.1 L979.9,961.1 L981.4,961.1 L983.0,961.3 L984.6,961.5 L986.1,961.8 L987.7,962.2 L989.3,962.6 L990.9,963.2 L992.4,963.8 L994.0,964.6 L995.6,965.6 L997.1,966.6 L998.7,967.8 L1000.3,969.0 L1001.9,970.2 L1003.4,971.4 L1005.0,972.7 L1006.6,974.0 L1008.1,975.4 L1009.7,976.8 L1011.3,978.3 L1012.9,979.9 L1014.4,981.6 L1016.0,983.3 L1017.6,985.2 L1019.2,987.1 L1020.7,989.1 L1022.3,991.1 L1023.9,993.2 L1025.4,995.5 L1027.0,997.8 L1028.6,1000.2 L1030.2,1002.6 L1031.7,1005.0 L1033.3,1007.4 L1034.9,1009.9 L1036.4,1012.4 L1038.0,1015.0 L1039.6,1017.5 L1041.2,1020.0 L1042.7,1022.5 L1044.3,1025.0 L1045.9,1027.4 L1047.4,1029.8 L1049.0,1032.2 L1050.6,1034.5 L1052.2,1036.9 L1053.7,1039.2 L1055.3,1041.6 L1056.9,1044.0 L1058.5,1046.4 L1060.0,1048.8 L1061.6,1051.2 L1063.2,1053.6 L1064.7,1056.0 L1066.3,1058.4 L1067.9,1060.7 L1069.5,1062.9 L1071.0,1065.1 L1072.6,1067.2 L1074.2,1069.3 L1075.7,1071.4 L1077.3,1073.5 L1078.9,1075.6 L1080.5,1077.8 L1082.0,1080.0 L1083.6,1082.2 L1085.2,1084.4 L1086.7,1086.6 L1088.3,1088.8 L1089.9,1090.9 L1091.5,1093.0 L1093.0,1095.2 L1094.6,1097.3 L1096.2,1099.3 L1097.8,1101.4 L1099.3,1103.4 L1100.9,1105.3 L1102.5,1107.2 L1104.0,1109.0 L1105.6,1110.9 L1107.2,1112.6 L1108.8,1114.4 L1110.3,1116.0 L1111.9,1117.7 L1113.5,1119.3 L1115.0,1120.8 L1116.6,1122.3 L1118.2,1123.7 L1119.8,1125.1 L1121.3,1126.5 L1122.9,1127.8 L1124.5,1129.2 L1126.0,1130.5 L1127.6,1131.8 L1129.2,1133.1 L1130.8,1134.4 L1132.3,1135.6 L1133.9,1136.9 L1135.5,1138.1 L1137.1,1139.3 L1138.6,1140.5 L1140.2,1141.6 L1141.8,1142.8 L1143.3,1143.9 L1144.9,1145.0 L1146.5,1146.0 L1148.1,1147.1 L1149.6,1148.2 L1151.2,1149.2 L1152.8,1150.2 L1154.3,1151.3 L1155.9,1152.3 L1157.5,1153.3 L1159.1,1154.3 L1160.6,1155.2 L1162.2,1156.1 L1163.8,1156.9 L1165.3,1157.7 L1166.9,1158.5 L1168.5,1159.2 L1170.1,1160.0 L1171.6,1160.6 L1173.2,1161.3 L1174.8,1162.0 L1176.4,1162.6 L1177.9,1163.2 L1179.5,1163.8 L1181.1,1164.4 L1182.6,1164.9 L1184.2,1165.5 L1185.8,1166.0 L1187.4,1166.5 L1188.9,1167.0 L1190.5,1167.5 L1192.1,1167.9 L1193.6,1168.4 L1195.2,1168.8 L1196.8,1169.2 L1198.4,1169.6 L1199.9,1170.0 L1201.5,1170.4 L1203.1,1170.8 L1204.6,1171.2 L1206.2,1171.5 L1207.8,1171.9 L1209.4,1172.2 L1210.9,1172.5 L1212.5,1172.8 L1214.1,1173.1 L1215.7,1173.3 L1217.2,1173.6 L1218.8,1173.8 L1220.4,1174.0 L1221.9,1174.1 L1223.5,1174.3 L1223.5,1174.3 Z" fill="url(#sp)"/>
<path d="M648.2,1174.3 L649.7,1174.1 L651.3,1173.5 L652.9,1172.8 L654.4,1172.0 L656.0,1171.1 L657.6,1170.1 L659.2,1169.0 L660.7,1167.8 L662.3,1166.4 L663.9,1164.9 L665.5,1163.2 L667.0,1161.2 L668.6,1159.0 L670.2,1156.5 L671.7,1153.8 L673.3,1150.7 L674.9,1147.2 L676.5,1142.7 L678.0,1137.6 L679.6,1132.3 L681.2,1127.5 L682.7,1122.8 L684.3,1117.8 L685.9,1112.4 L687.5,1106.3 L689.0,1099.5 L690.6,1092.1 L692.2,1083.9 L693.7,1074.6 L695.3,1063.3 L696.9,1050.1 L698.5,1036.0 L700.0,1022.1 L701.6,1007.6 L703.2,992.8 L704.8,978.3 L706.3,963.4 L707.9,948.9 L709.5,938.1 L711.0,930.9 L712.6,927.5 L714.2,930.0 L715.8,936.4 L717.3,946.0 L718.9,958.9 L720.5,972.9 L722.0,986.1 L723.6,999.5 L725.2,1012.6 L726.8,1026.0 L728.3,1037.7 L729.9,1045.1 L731.5,1050.9 L733.0,1055.8 L734.6,1060.5 L736.2,1065.5 L737.8,1070.6 L739.3,1075.6 L740.9,1080.6 L742.5,1085.7 L744.1,1090.4 L745.6,1094.3 L747.2,1097.8 L748.8,1100.9 L750.3,1103.4 L751.9,1105.1 L753.5,1106.4 L755.1,1106.9 L756.6,1106.5 L758.2,1105.5 L759.8,1104.2 L761.3,1102.8 L762.9,1101.0 L764.5,1098.8 L766.1,1096.3 L767.6,1093.6 L769.2,1090.9 L770.8,1087.9 L772.3,1084.7 L773.9,1081.3 L775.5,1077.9 L777.1,1074.6 L778.6,1071.1 L780.2,1067.6 L781.8,1064.1 L783.4,1060.7 L784.9,1057.6 L786.5,1054.6 L788.1,1051.7 L789.6,1048.9 L791.2,1046.2 L792.8,1043.7 L794.4,1041.3 L795.9,1039.0 L797.5,1036.8 L799.1,1034.6 L800.6,1032.6 L802.2,1030.7 L803.8,1029.0 L805.4,1027.4 L806.9,1025.9 L808.5,1024.5 L810.1,1023.2 L811.6,1021.9 L813.2,1020.8 L814.8,1019.6 L816.4,1018.6 L817.9,1017.5 L819.5,1016.6 L821.1,1015.6 L822.7,1014.7 L824.2,1013.8 L825.8,1012.9 L827.4,1012.0 L828.9,1011.1 L830.5,1010.3 L832.1,1009.5 L833.7,1008.6 L835.2,1007.8 L836.8,1006.9 L838.4,1005.9 L839.9,1004.9 L841.5,1003.9 L843.1,1002.9 L844.7,1001.9 L846.2,1000.9 L847.8,999.9 L849.4,998.9 L850.9,997.9 L852.5,996.9 L854.1,995.9 L855.7,995.0 L857.2,994.0 L858.8,993.1 L860.4,992.2 L862.0,991.4 L863.5,990.7 L865.1,990.0 L866.7,989.3 L868.2,988.6 L869.8,988.0 L871.4,987.4 L873.0,986.8 L874.5,986.3 L876.1,985.7 L877.7,985.1 L879.2,984.6 L880.8,984.0 L882.4,983.6 L884.0,983.2 L885.5,982.8 L887.1,982.6 L888.7,982.4 L890.2,982.2 L891.8,982.1 L893.4,982.0 L895.0,981.8 L896.5,981.7 L898.1,981.6 L899.7,981.4 L901.3,981.2 L902.8,980.9 L904.4,980.6 L906.0,980.3 L907.5,980.0 L909.1,979.6 L910.7,979.3 L912.3,979.0 L913.8,978.8 L915.4,978.6 L917.0,978.4 L918.5,978.3 L920.1,978.1 L921.7,977.9 L923.3,977.7 L924.8,977.4 L926.4,977.0 L928.0,976.7 L929.5,976.3 L931.1,975.9 L932.7,975.4 L934.3,974.9 L935.8,974.4 L937.4,973.7 L939.0,973.1 L940.6,972.4 L942.1,971.7 L943.7,971.0 L945.3,970.4 L946.8,969.9 L948.4,969.3 L950.0,968.8 L951.6,968.3 L953.1,967.7 L954.7,967.2 L956.3,966.7 L957.8,966.2 L959.4,965.7 L961.0,965.1 L962.6,964.5 L964.1,963.9 L965.7,963.4 L967.3,962.9 L968.8,962.5 L970.4,962.2 L972.0,961.9 L973.6,961.7 L975.1,961.4 L976.7,961.2 L978.3,961.1 L979.9,961.1 L981.4,961.1 L983.0,961.3 L984.6,961.5 L986.1,961.8 L987.7,962.2 L989.3,962.6 L990.9,963.2 L992.4,963.8 L994.0,964.6 L995.6,965.6 L997.1,966.6 L998.7,967.8 L1000.3,969.0 L1001.9,970.2 L1003.4,971.4 L1005.0,972.7 L1006.6,974.0 L1008.1,975.4 L1009.7,976.8 L1011.3,978.3 L1012.9,979.9 L1014.4,981.6 L1016.0,983.3 L1017.6,985.2 L1019.2,987.1 L1020.7,989.1 L1022.3,991.1 L1023.9,993.2 L1025.4,995.5 L1027.0,997.8 L1028.6,1000.2 L1030.2,1002.6 L1031.7,1005.0 L1033.3,1007.4 L1034.9,1009.9 L1036.4,1012.4 L1038.0,1015.0 L1039.6,1017.5 L1041.2,1020.0 L1042.7,1022.5 L1044.3,1025.0 L1045.9,1027.4 L1047.4,1029.8 L1049.0,1032.2 L1050.6,1034.5 L1052.2,1036.9 L1053.7,1039.2 L1055.3,1041.6 L1056.9,1044.0 L1058.5,1046.4 L1060.0,1048.8 L1061.6,1051.2 L1063.2,1053.6 L1064.7,1056.0 L1066.3,1058.4 L1067.9,1060.7 L1069.5,1062.9 L1071.0,1065.1 L1072.6,1067.2 L1074.2,1069.3 L1075.7,1071.4 L1077.3,1073.5 L1078.9,1075.6 L1080.5,1077.8 L1082.0,1080.0 L1083.6,1082.2 L1085.2,1084.4 L1086.7,1086.6 L1088.3,1088.8 L1089.9,1090.9 L1091.5,1093.0 L1093.0,1095.2 L1094.6,1097.3 L1096.2,1099.3 L1097.8,1101.4 L1099.3,1103.4 L1100.9,1105.3 L1102.5,1107.2 L1104.0,1109.0 L1105.6,1110.9 L1107.2,1112.6 L1108.8,1114.4 L1110.3,1116.0 L1111.9,1117.7 L1113.5,1119.3 L1115.0,1120.8 L1116.6,1122.3 L1118.2,1123.7 L1119.8,1125.1 L1121.3,1126.5 L1122.9,1127.8 L1124.5,1129.2 L1126.0,1130.5 L1127.6,1131.8 L1129.2,1133.1 L1130.8,1134.4 L1132.3,1135.6 L1133.9,1136.9 L1135.5,1138.1 L1137.1,1139.3 L1138.6,1140.5 L1140.2,1141.6 L1141.8,1142.8 L1143.3,1143.9 L1144.9,1145.0 L1146.5,1146.0 L1148.1,1147.1 L1149.6,1148.2 L1151.2,1149.2 L1152.8,1150.2 L1154.3,1151.3 L1155.9,1152.3 L1157.5,1153.3 L1159.1,1154.3 L1160.6,1155.2 L1162.2,1156.1 L1163.8,1156.9 L1165.3,1157.7 L1166.9,1158.5 L1168.5,1159.2 L1170.1,1160.0 L1171.6,1160.6 L1173.2,1161.3 L1174.8,1162.0 L1176.4,1162.6 L1177.9,1163.2 L1179.5,1163.8 L1181.1,1164.4 L1182.6,1164.9 L1184.2,1165.5 L1185.8,1166.0 L1187.4,1166.5 L1188.9,1167.0 L1190.5,1167.5 L1192.1,1167.9 L1193.6,1168.4 L1195.2,1168.8 L1196.8,1169.2 L1198.4,1169.6 L1199.9,1170.0 L1201.5,1170.4 L1203.1,1170.8 L1204.6,1171.2 L1206.2,1171.5 L1207.8,1171.9 L1209.4,1172.2 L1210.9,1172.5 L1212.5,1172.8 L1214.1,1173.1 L1215.7,1173.3 L1217.2,1173.6 L1218.8,1173.8 L1220.4,1174.0 L1221.9,1174.1 L1223.5,1174.3" fill="none" stroke="#300000" stroke-opacity="0.35" stroke-width="0.9"/>
</svg>
<div class="t" style="left:513.32px;top:91px;font-size:26.0px;line-height:30px;word-spacing:-0.160px;font-weight:700;"><span style="letter-spacing:1.786px">ILIKE</span> <span style="letter-spacing:1.098px">LIGHTING</span> <span style="letter-spacing:0.156px">TECHNOLOGY</span> <span style="letter-spacing:0.988px">JIONSTOCK</span> <span style="letter-spacing:0.222px">COMPANY</span></div>
<div class="t" style="left:795.38px;top:122px;font-size:26.0px;line-height:30px;word-spacing:0.887px;"><span style="letter-spacing:0.192px">kingled.vn/kingeco.vn/kingled.com.vn</span></div>
<div class="t" style="left:1025.35px;top:153px;font-size:26.0px;line-height:30px;word-spacing:0.887px;"><span style="letter-spacing:0.719px">Add:</span> <span style="letter-spacing:-0.011px">352</span> <span style="letter-spacing:-0.127px">Giai</span> <span style="letter-spacing:-0.095px">Phong</span></div>
<div class="t" style="left:1016.93px;top:185px;font-size:26.0px;line-height:30px;word-spacing:0.887px;"><span style="letter-spacing:0.277px">Hotline:</span> <span style="letter-spacing:-0.006px">1900633669</span></div>
<div class="t" style="left:495.80px;top:292px;font-size:31.3px;line-height:36px;word-spacing:-0.192px;font-weight:700;"><span style="letter-spacing:-0.162px">Lightsource</span> <span style="letter-spacing:0.737px">Test</span> <span style="letter-spacing:-0.192px">Report</span></div>
<div class="t" style="left:118.00px;top:368px;font-size:26.0px;line-height:30px;word-spacing:0.887px;"><span style="letter-spacing:0.041px">Product</span> <span style="letter-spacing:0.259px">Infomation</span></div>
<div class="t" style="left:145.00px;top:414px;font-size:23.93px;line-height:28px;word-spacing:0.817px;"><span style="letter-spacing:0.042px">Product</span> <span style="letter-spacing:1.185px">Type:</span> <span style="letter-spacing:1.165px">OBR-15SS-TT-D</span></div>
<div class="t" style="left:706.50px;top:414px;font-size:23.93px;line-height:28px;word-spacing:0.817px;"><span style="letter-spacing:0.042px">Product</span> <span style="letter-spacing:0.405px">Number:</span> <span style="letter-spacing:-0.004px">436</span></div>
<div class="t" style="left:118.00px;top:478px;font-size:26.0px;line-height:30px;word-spacing:0.887px;"><span style="letter-spacing:1.092px">CIE</span> <span style="letter-spacing:-0.081px">Colorimetric</span> <span style="letter-spacing:0.039px">Parameters</span></div>
<div class="t" style="left:145.00px;top:524px;font-size:23.93px;line-height:28px;word-spacing:0.817px;"><span style="letter-spacing:-0.023px">Chromaticity</span> <span style="letter-spacing:0.136px">coordinates:</span> <span style="letter-spacing:0.080px">x=0.3830</span> <span style="letter-spacing:0.080px">y=0.3764</span>    <span style="letter-spacing:0.294px">u(u')=0.2269</span> <span style="letter-spacing:0.080px">v=0.3345</span> <span style="letter-spacing:0.056px">v'=0.5018</span></div>
<div class="t" style="left:145.00px;top:555px;font-size:23.93px;line-height:28px;word-spacing:0.817px;"><span style="letter-spacing:1.390px">CCT:</span> <span style="letter-spacing:0.492px">Tc=3928K</span> <span style="letter-spacing:0.403px">(duv=-0.00091)</span></div>
<div class="t" style="left:706.50px;top:555px;font-size:23.93px;line-height:28px;word-spacing:0.817px;"><span style="letter-spacing:0.012px">Color</span> <span style="letter-spacing:0.484px">Ratio:</span> <span style="letter-spacing:0.091px">R=0.200</span>  <span style="letter-spacing:0.090px">G=0.763</span>  <span style="letter-spacing:0.089px">B=0.038</span></div>
<div class="t" style="left:145.00px;top:587px;font-size:23.93px;line-height:28px;word-spacing:0.817px;"><span style="letter-spacing:0.107px">Peak</span> <span style="letter-spacing:0.257px">Wavelength:</span> <span style="letter-spacing:0.152px">451.1nm</span></div>
<div class="t" style="left:706.50px;top:587px;font-size:23.93px;line-height:28px;word-spacing:0.817px;"><span style="letter-spacing:-0.096px">Half</span> <span style="letter-spacing:0.191px">Bandwidth:</span> <span style="letter-spacing:0.178px">21.6nm</span></div>
<div class="t" style="left:145.00px;top:618px;font-size:23.93px;line-height:28px;word-spacing:0.817px;"><span style="letter-spacing:-0.057px">Dominant</span> <span style="letter-spacing:0.257px">Wavelength:</span> <span style="letter-spacing:0.152px">579.8nm</span></div>
<div class="t" style="left:706.50px;top:618px;font-size:23.93px;line-height:28px;word-spacing:0.817px;"><span style="letter-spacing:0.012px">Color</span> <span style="letter-spacing:0.757px">Purity:</span> <span style="letter-spacing:0.221px">0.279</span></div>
<div class="t" style="left:145.00px;top:649px;font-size:23.93px;line-height:28px;word-spacing:0.817px;"><span style="letter-spacing:1.455px">CRI:</span> <span style="letter-spacing:1.016px">Ra:</span> <span style="letter-spacing:-0.075px">Ra=</span> <span style="letter-spacing:0.276px">92.3</span></div>
<div class="t" style="left:145.00px;top:681px;font-size:23.93px;line-height:28px;word-spacing:0.817px;">R1 <span style="letter-spacing:-0.157px">=93</span></div>
<div class="t" style="left:286.85px;top:681px;font-size:23.93px;line-height:28px;word-spacing:0.817px;">R2 <span style="letter-spacing:-0.157px">=94</span></div>
<div class="t" style="left:428.70px;top:681px;font-size:23.93px;line-height:28px;word-spacing:0.817px;">R3 <span style="letter-spacing:-0.157px">=93</span></div>
<div class="t" style="left:570.55px;top:681px;font-size:23.93px;line-height:28px;word-spacing:0.817px;">R4 <span style="letter-spacing:-0.157px">=93</span></div>
<div class="t" style="left:712.40px;top:681px;font-size:23.93px;line-height:28px;word-spacing:0.817px;">R5 <span style="letter-spacing:-0.157px">=92</span></div>
<div class="t" style="left:854.25px;top:681px;font-size:23.93px;line-height:28px;word-spacing:0.817px;">R6 <span style="letter-spacing:-0.157px">=91</span></div>
<div class="t" style="left:996.10px;top:681px;font-size:23.93px;line-height:28px;word-spacing:0.817px;">R7 <span style="letter-spacing:-0.157px">=95</span></div>
<div class="t" style="left:1137.95px;top:681px;font-size:23.93px;line-height:28px;word-spacing:0.817px;">R8 <span style="letter-spacing:-0.157px">=88</span></div>
<div class="t" style="left:145.00px;top:712px;font-size:23.93px;line-height:28px;word-spacing:0.817px;">R9 <span style="letter-spacing:-0.157px">=69</span></div>
<div class="t" style="left:286.85px;top:712px;font-size:23.93px;line-height:28px;word-spacing:0.817px;"><span style="letter-spacing:-0.077px">R10=84</span></div>
<div class="t" style="left:428.70px;top:712px;font-size:23.93px;line-height:28px;word-spacing:0.817px;"><span style="letter-spacing:-0.077px">R11=92</span></div>
<div class="t" style="left:570.55px;top:712px;font-size:23.93px;line-height:28px;word-spacing:0.817px;"><span style="letter-spacing:-0.077px">R12=72</span></div>
<div class="t" style="left:712.40px;top:712px;font-size:23.93px;line-height:28px;word-spacing:0.817px;"><span style="letter-spacing:-0.077px">R13=93</span></div>
<div class="t" style="left:854.25px;top:712px;font-size:23.93px;line-height:28px;word-spacing:0.817px;"><span style="letter-spacing:-0.077px">R14=95</span></div>
<div class="t" style="left:996.10px;top:712px;font-size:23.93px;line-height:28px;word-spacing:0.817px;"><span style="letter-spacing:-0.077px">R15=92</span></div>
<div class="t" style="left:145.00px;top:743px;font-size:23.93px;line-height:28px;word-spacing:0.817px;"><span style="letter-spacing:0.012px">Color</span> <span style="letter-spacing:-0.059px">Quality</span> <span style="letter-spacing:0.413px">Scale:</span> <span style="letter-spacing:-0.252px">Qa=</span> <span style="letter-spacing:0.441px">91.1,</span> <span style="letter-spacing:-0.155px">Qf=</span> <span style="letter-spacing:0.441px">90.5,</span> <span style="letter-spacing:-0.249px">Qp=</span> <span style="letter-spacing:0.441px">92.7,</span> <span style="letter-spacing:-0.249px">Qg=</span> <span style="letter-spacing:0.276px">99.6</span></div>
<div class="t" style="left:145.00px;top:775px;font-size:23.93px;line-height:28px;word-spacing:0.817px;"><span style="letter-spacing:-0.005px">Q1</span> <span style="letter-spacing:-0.157px">=94</span></div>
<div class="t" style="left:286.85px;top:775px;font-size:23.93px;line-height:28px;word-spacing:0.817px;"><span style="letter-spacing:-0.005px">Q2</span> <span style="letter-spacing:-0.157px">=99</span></div>
<div class="t" style="left:428.70px;top:775px;font-size:23.93px;line-height:28px;word-spacing:0.817px;"><span style="letter-spacing:-0.005px">Q3</span> <span style="letter-spacing:-0.157px">=84</span></div>
<div class="t" style="left:570.55px;top:775px;font-size:23.93px;line-height:28px;word-spacing:0.817px;"><span style="letter-spacing:-0.005px">Q4</span> <span style="letter-spacing:-0.157px">=85</span></div>
<div class="t" style="left:712.40px;top:775px;font-size:23.93px;line-height:28px;word-spacing:0.817px;"><span style="letter-spacing:-0.005px">Q5</span> <span style="letter-spacing:-0.157px">=90</span></div>
<div class="t" style="left:854.25px;top:775px;font-size:23.93px;line-height:28px;word-spacing:0.817px;"><span style="letter-spacing:-0.005px">Q6</span> <span style="letter-spacing:-0.157px">=92</span></div>
<div class="t" style="left:996.10px;top:775px;font-size:23.93px;line-height:28px;word-spacing:0.817px;"><span style="letter-spacing:-0.005px">Q7</span> <span style="letter-spacing:-0.157px">=91</span></div>
<div class="t" style="left:1137.95px;top:775px;font-size:23.93px;line-height:28px;word-spacing:0.817px;"><span style="letter-spacing:-0.005px">Q8</span> <span style="letter-spacing:-0.157px">=95</span></div>
<div class="t" style="left:145.00px;top:806px;font-size:23.93px;line-height:28px;word-spacing:0.817px;"><span style="letter-spacing:-0.005px">Q9</span> <span style="letter-spacing:-0.157px">=97</span></div>
<div class="t" style="left:286.85px;top:806px;font-size:23.93px;line-height:28px;word-spacing:0.817px;"><span style="letter-spacing:-0.080px">Q10=92</span></div>
<div class="t" style="left:428.70px;top:806px;font-size:23.93px;line-height:28px;word-spacing:0.817px;"><span style="letter-spacing:-0.080px">Q11=92</span></div>
<div class="t" style="left:570.55px;top:806px;font-size:23.93px;line-height:28px;word-spacing:0.817px;"><span style="letter-spacing:-0.080px">Q12=93</span></div>
<div class="t" style="left:712.40px;top:806px;font-size:23.93px;line-height:28px;word-spacing:0.817px;"><span style="letter-spacing:-0.080px">Q13=94</span></div>
<div class="t" style="left:854.25px;top:806px;font-size:23.93px;line-height:28px;word-spacing:0.817px;"><span style="letter-spacing:-0.080px">Q14=91</span></div>
<div class="t" style="left:996.10px;top:806px;font-size:23.93px;line-height:28px;word-spacing:0.817px;"><span style="letter-spacing:-0.080px">Q15=92</span></div>
<div class="t" style="left:118.00px;top:1261px;font-size:26.0px;line-height:30px;word-spacing:0.887px;"><span style="letter-spacing:-0.105px">Photometric</span> <span style="letter-spacing:0.039px">Parameters</span></div>
<div class="t" style="left:145.00px;top:1308px;font-size:23.93px;line-height:28px;word-spacing:0.817px;"><span style="letter-spacing:0.019px">Luminous</span> <span style="letter-spacing:0.540px">Flux:</span> <span style="letter-spacing:0.156px">1396.41</span> <span style="letter-spacing:-0.056px">lm</span></div>
<div class="t" style="left:519.50px;top:1308px;font-size:23.93px;line-height:28px;word-spacing:0.817px;"><span style="letter-spacing:0.263px">Efficiency:</span> <span style="letter-spacing:0.221px">92.48</span> <span style="letter-spacing:0.675px">lm/W</span></div>
<div class="t" style="left:1001.16px;top:1308px;font-size:23.93px;line-height:28px;word-spacing:0.817px;"><span style="letter-spacing:-0.051px">Radiant</span> <span style="letter-spacing:0.651px">Power:</span> <span style="letter-spacing:0.221px">4.716</span> <span style="letter-spacing:0.011px">W</span></div>
<div class="t" style="left:145.00px;top:1340px;font-size:23.93px;line-height:28px;word-spacing:0.817px;"><span style="letter-spacing:1.457px">EEI:</span>  <span style="letter-spacing:0.276px">0.15</span></div>
<div class="t" style="left:519.50px;top:1340px;font-size:23.93px;line-height:28px;word-spacing:0.817px;"><span style="letter-spacing:0.013px">Energy</span> <span style="letter-spacing:-0.164px">Efficiency</span> <span style="letter-spacing:0.407px">Class:</span> <span style="letter-spacing:-0.240px">A+</span> <span style="letter-spacing:0.512px">(EU</span> <span style="letter-spacing:0.417px">874-2012)</span></div>
<div class="t" style="left:118.00px;top:1403px;font-size:26.0px;line-height:30px;word-spacing:0.887px;"><span style="letter-spacing:-0.218px">Electric</span> <span style="letter-spacing:0.039px">Parameters</span></div>
<div class="t" style="left:145.00px;top:1449px;font-size:23.93px;line-height:28px;word-spacing:0.817px;"><span style="letter-spacing:0.437px">Voltage:</span> <span style="letter-spacing:0.157px">219.90V</span></div>
<div class="t" style="left:519.50px;top:1449px;font-size:23.93px;line-height:28px;word-spacing:0.817px;"><span style="letter-spacing:0.508px">Current:</span> <span style="letter-spacing:0.157px">0.1400A</span></div>
<div class="t" style="left:894.00px;top:1449px;font-size:23.93px;line-height:28px;word-spacing:0.817px;"><span style="letter-spacing:0.651px">Power:</span> <span style="letter-spacing:0.186px">15.10W</span></div>
<div class="t" style="left:145.00px;top:1480px;font-size:23.93px;line-height:28px;word-spacing:0.817px;"><span style="letter-spacing:0.136px">Power</span> <span style="letter-spacing:0.681px">Factor:</span> <span style="letter-spacing:0.182px">0.4900</span></div>
<div class="t" style="left:519.50px;top:1480px;font-size:23.93px;line-height:28px;word-spacing:0.817px;"><span style="letter-spacing:0.530px">Frequency:</span> <span style="letter-spacing:0.156px">49.99Hz</span></div>
<div class="t" style="left:141.00px;top:1605px;font-size:22.25px;line-height:26px;word-spacing:0.759px;"><span style="letter-spacing:0.874px">Test</span> <span style="letter-spacing:0.222px">Infomation</span></div>
<div class="t" style="left:164.00px;top:1632px;font-size:22.25px;line-height:26px;word-spacing:0.759px;"><span style="letter-spacing:0.043px">Scan</span> <span style="letter-spacing:0.352px">Range:</span> <span style="letter-spacing:0.189px">380~800:1nm</span></div>
<div class="t" style="left:164.00px;top:1659px;font-size:22.25px;line-height:26px;word-spacing:0.759px;"><span style="letter-spacing:-0.006px">Stabilization</span> <span style="letter-spacing:0.572px">Time:</span> <span style="letter-spacing:-0.005px">0</span> <span style="letter-spacing:-0.020px">ms</span></div>
<div class="t" style="left:164.00px;top:1686px;font-size:22.25px;line-height:26px;word-spacing:0.759px;"><span style="letter-spacing:-0.233px">Max</span> <span style="letter-spacing:-0.058px">of</span> <span style="letter-spacing:0.427px">Signal:</span> <span style="letter-spacing:-0.005px">44502</span> <span style="letter-spacing:0.468px">(4432)</span></div>
<div class="t" style="left:730.00px;top:1632px;font-size:22.25px;line-height:26px;word-spacing:0.759px;"><span style="letter-spacing:-0.089px">Photometric</span> <span style="letter-spacing:0.198px">Method:</span> <span style="letter-spacing:0.015px">sphere-spectroradiometer</span></div>
<div class="t" style="left:730.00px;top:1659px;font-size:22.25px;line-height:26px;word-spacing:0.759px;"><span style="letter-spacing:-0.089px">Photometric</span> <span style="letter-spacing:0.195px">Condition:</span> <span style="letter-spacing:0.133px">Sphere</span> <span style="letter-spacing:0.210px">diameter:</span> <span style="letter-spacing:0.334px">1.50m,</span> <span style="letter-spacing:0.931px">4PI</span></div>
<div class="t" style="left:730.00px;top:1686px;font-size:22.25px;line-height:26px;word-spacing:0.759px;">CCD <span style="letter-spacing:0.187px">Integration</span> <span style="letter-spacing:0.572px">Time:</span> <span style="letter-spacing:0.166px">240.83</span> <span style="letter-spacing:-0.020px">ms</span></div>
<div class="t" style="left:118.30px;top:1796px;font-size:23.35px;line-height:28px;word-spacing:0.797px;"><span style="letter-spacing:0.208px">Condition:</span> <span style="letter-spacing:0.488px">Tx:30.4'C,</span> <span style="letter-spacing:0.550px">Ti:27.8'C,</span> <span style="letter-spacing:1.133px">R.H.:60%</span></div>
<div class="t" style="left:118.30px;top:1825px;font-size:23.35px;line-height:28px;word-spacing:0.797px;"><span style="letter-spacing:0.924px">Test</span> <span style="letter-spacing:0.547px">Lab:</span></div>
<div class="t" style="left:118.30px;top:1853px;font-size:23.35px;line-height:28px;word-spacing:0.797px;"><span style="letter-spacing:0.315px">Operator:</span></div>
<div class="t" style="left:706.40px;top:1796px;font-size:23.35px;line-height:28px;word-spacing:0.797px;"><span style="letter-spacing:0.924px">Test</span> <span style="letter-spacing:0.160px">Device:</span> <span style="letter-spacing:0.197px">Inventfine</span> <span style="letter-spacing:0.670px">CMS-2S</span> <span style="letter-spacing:0.482px">(Plus)</span></div>
<div class="t" style="left:706.40px;top:1825px;font-size:23.35px;line-height:28px;word-spacing:0.797px;"><span style="letter-spacing:0.924px">Test</span> <span style="letter-spacing:0.604px">Time:</span> <span style="letter-spacing:0.433px">2022-10-19</span> <span style="letter-spacing:0.683px">16:15:01</span></div>
<div class="t" style="left:706.40px;top:1853px;font-size:23.35px;line-height:28px;word-spacing:0.797px;"><span style="letter-spacing:0.501px">Inspector:</span></div>
<div class="t" style="left:141.70px;top:864px;font-size:19.4px;line-height:23px;word-spacing:0.662px;"><span style="letter-spacing:0.352px">CIE1931</span> <span style="letter-spacing:0.528px">CHROMATICITY</span> <span style="letter-spacing:0.465px">DIAGRAM</span></div>
<div class="t" style="left:122.80px;top:876px;font-size:19.7px;line-height:23px;word-spacing:0.672px;"><span style="letter-spacing:0.006px">y</span></div>
<div class="t" style="left:118.00px;top:921px;font-size:19.7px;line-height:23px;word-spacing:0.672px;"><span style="letter-spacing:0.452px">.8</span></div>
<div class="t" style="left:118.00px;top:989px;font-size:19.7px;line-height:23px;word-spacing:0.672px;"><span style="letter-spacing:0.452px">.6</span></div>
<div class="t" style="left:118.00px;top:1057px;font-size:19.7px;line-height:23px;word-spacing:0.672px;"><span style="letter-spacing:0.452px">.4</span></div>
<div class="t" style="left:118.00px;top:1125px;font-size:19.7px;line-height:23px;word-spacing:0.672px;"><span style="letter-spacing:0.452px">.2</span></div>
<div class="t" style="left:121.10px;top:1206px;font-size:19.7px;line-height:23px;word-spacing:0.672px;">0</div>
<div class="t" style="left:160.30px;top:1206px;font-size:19.7px;line-height:23px;word-spacing:0.672px;"><span style="letter-spacing:0.306px">0.1</span></div>
<div class="t" style="left:248.30px;top:1206px;font-size:19.7px;line-height:23px;word-spacing:0.672px;"><span style="letter-spacing:0.306px">0.3</span></div>
<div class="t" style="left:336.30px;top:1206px;font-size:19.7px;line-height:23px;word-spacing:0.672px;"><span style="letter-spacing:0.306px">0.5</span></div>
<div class="t" style="left:424.30px;top:1206px;font-size:19.7px;line-height:23px;word-spacing:0.672px;"><span style="letter-spacing:0.306px">0.7</span></div>
<div class="t" style="left:494.00px;top:1206px;font-size:19.7px;line-height:23px;word-spacing:0.672px;"><span style="letter-spacing:0.006px">x</span></div>
<div class="t" style="left:553.60px;top:866px;font-size:22.2px;line-height:26px;word-spacing:0.758px;"><span style="letter-spacing:0.341px">1.2</span></div>
<div class="t" style="left:553.60px;top:915px;font-size:22.2px;line-height:26px;word-spacing:0.758px;"><span style="letter-spacing:0.341px">1.0</span></div>
<div class="t" style="left:553.60px;top:965px;font-size:22.2px;line-height:26px;word-spacing:0.758px;"><span style="letter-spacing:0.341px">0.8</span></div>
<div class="t" style="left:553.60px;top:1014px;font-size:22.2px;line-height:26px;word-spacing:0.758px;"><span style="letter-spacing:0.341px">0.6</span></div>
<div class="t" style="left:553.60px;top:1063px;font-size:22.2px;line-height:26px;word-spacing:0.758px;"><span style="letter-spacing:0.341px">0.4</span></div>
<div class="t" style="left:553.60px;top:1113px;font-size:22.2px;line-height:26px;word-spacing:0.758px;"><span style="letter-spacing:0.341px">0.2</span></div>
<div class="t" style="left:553.60px;top:1162px;font-size:22.2px;line-height:26px;word-spacing:0.758px;"><span style="letter-spacing:0.341px">0.0</span></div>
<div class="t" style="left:579.82px;top:1189px;font-size:22.2px;line-height:26px;word-spacing:0.758px;">380</div>
<div class="t" style="left:658.42px;top:1189px;font-size:22.2px;line-height:26px;word-spacing:0.758px;">430</div>
<div class="t" style="left:737.02px;top:1189px;font-size:22.2px;line-height:26px;word-spacing:0.758px;">480</div>
<div class="t" style="left:815.62px;top:1189px;font-size:22.2px;line-height:26px;word-spacing:0.758px;">530</div>
<div class="t" style="left:894.22px;top:1189px;font-size:22.2px;line-height:26px;word-spacing:0.758px;">580</div>
<div class="t" style="left:972.82px;top:1189px;font-size:22.2px;line-height:26px;word-spacing:0.758px;">630</div>
<div class="t" style="left:1051.42px;top:1189px;font-size:22.2px;line-height:26px;word-spacing:0.758px;">680</div>
<div class="t" style="left:1130.02px;top:1189px;font-size:22.2px;line-height:26px;word-spacing:0.758px;">730</div>
<div class="t" style="left:1208.62px;top:1189px;font-size:22.2px;line-height:26px;word-spacing:0.758px;">780</div>
</body></html>
